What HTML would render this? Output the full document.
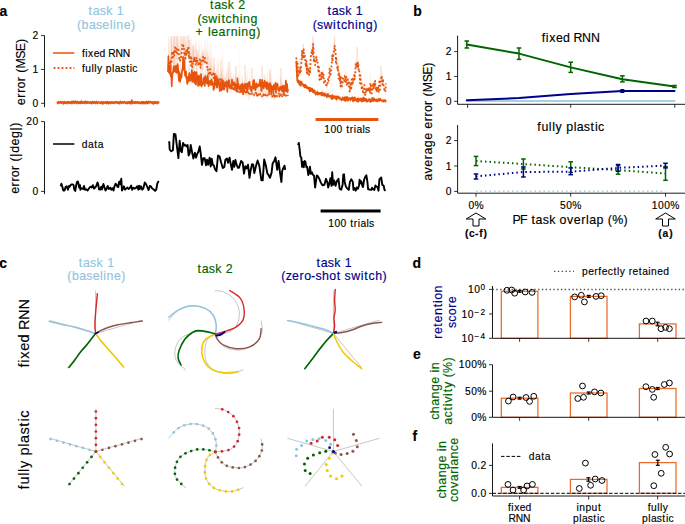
<!DOCTYPE html>
<html><head><meta charset="utf-8"><style>
html,body{margin:0;padding:0;background:#fff;}
svg{display:block;}
text{font-family:"Liberation Sans",sans-serif;}
</style></head><body>
<svg width="685" height="524" viewBox="0 0 685 524" style="white-space:pre">
<rect width="685" height="524" fill="#fff"/>
<text transform="translate(-1.20 15.80)" x="0.60" y="0" font-size="13.97" stroke="#000" stroke-width="0.15" font-weight="bold">a</text>
<text transform="translate(106.00 14.90)" x="-17.46 -13.25 -6.21 0.28 6.94 10.85" y="0" font-size="12.39" fill="#92c5de" stroke="#92c5de" stroke-width="0.15">task 1</text>
<text transform="translate(106.00 28.60)" x="-29.08 -24.41 -17.05 -10.01 -3.66 3.68 6.96 10.27 17.64 24.95" y="0" font-size="12.39" fill="#92c5de" stroke="#92c5de" stroke-width="0.15">(baseline)</text>
<text transform="translate(227.40 9.20)" x="-17.46 -13.25 -6.21 0.28 6.94 10.85" y="0" font-size="12.39" fill="#006400" stroke="#006400" stroke-width="0.15">task 2</text>
<text transform="translate(227.40 22.60)" x="-30.02 -25.68 -19.16 -9.60 -5.99 -1.81 4.83 12.28 15.59 23.07" y="0" font-size="12.39" fill="#006400" stroke="#006400" stroke-width="0.15">(switching</text>
<text transform="translate(227.40 35.90)" x="-31.86 -23.15 -19.29 -16.09 -8.84 -1.42 3.36 10.60 13.91 21.40 28.83" y="0" font-size="12.39" fill="#006400" stroke="#006400" stroke-width="0.15">+ learning)</text>
<text transform="translate(345.00 14.90)" x="-17.46 -13.25 -6.21 0.28 6.94 10.85" y="0" font-size="12.39" fill="#00008b" stroke="#00008b" stroke-width="0.15">task 1</text>
<text transform="translate(345.00 28.60)" x="-32.32 -27.98 -21.46 -11.90 -8.29 -4.11 2.53 9.97 13.28 20.77 28.20" y="0" font-size="12.39" fill="#00008b" stroke="#00008b" stroke-width="0.15">(switching)</text>
<line x1="44.50" y1="35.60" x2="44.50" y2="107.20" stroke="#000" stroke-width="0.9" />
<line x1="41.00" y1="35.60" x2="44.50" y2="35.60" stroke="#000" stroke-width="0.8" />
<text transform="translate(38.50 39.17)" x="-5.98" y="0" font-size="10.29" stroke="#000" stroke-width="0.15">2</text>
<line x1="41.00" y1="69.45" x2="44.50" y2="69.45" stroke="#000" stroke-width="0.8" />
<text transform="translate(38.50 73.02)" x="-5.98" y="0" font-size="10.29" stroke="#000" stroke-width="0.15">1</text>
<line x1="41.00" y1="103.30" x2="44.50" y2="103.30" stroke="#000" stroke-width="0.8" />
<text transform="translate(38.50 106.87)" x="-5.98" y="0" font-size="10.29" stroke="#000" stroke-width="0.15">0</text>
<text transform="translate(25.00 72.00) rotate(-90)" x="-33.14 -25.70 -20.85 -16.41 -9.25 -4.60 -0.77 3.53 13.39 20.86 28.96" y="0" font-size="12.39" stroke="#000" stroke-width="0.15">error (MSE)</text>
<line x1="53.00" y1="53.00" x2="74.40" y2="53.00" stroke="#e6550d" stroke-width="1.5" />
<text transform="translate(81.60 56.90)" x="0.30 3.67 6.50 12.13 17.95 24.05 26.73 33.80 41.13" y="0" font-size="10.29" stroke="#000" stroke-width="0.15">fixed RNN</text>
<line x1="53.60" y1="68.00" x2="74.40" y2="68.00" stroke="#e6550d" stroke-width="1.8" stroke-dasharray="1.8 2.2"/>
<text transform="translate(81.60 71.60)" x="0.30 3.69 9.88 12.60 15.43 21.03 24.27 30.46 33.11 38.95 44.57 48.14 50.76" y="0" font-size="10.29" stroke="#000" stroke-width="0.15">fully plastic</text>
<line x1="44.50" y1="121.60" x2="44.50" y2="194.20" stroke="#000" stroke-width="0.9" />
<line x1="41.00" y1="121.60" x2="44.50" y2="121.60" stroke="#000" stroke-width="0.8" />
<text transform="translate(38.50 125.17)" x="-12.21 -5.98" y="0" font-size="10.29" stroke="#000" stroke-width="0.15">20</text>
<line x1="41.00" y1="191.40" x2="44.50" y2="191.40" stroke="#000" stroke-width="0.8" />
<text transform="translate(38.50 194.97)" x="-5.98" y="0" font-size="10.29" stroke="#000" stroke-width="0.15">0</text>
<text transform="translate(19.20 158.20) rotate(-90)" x="-35.67 -28.24 -23.38 -18.94 -11.78 -7.14 -3.30 1.44 5.34 12.71 20.09 27.66 31.49" y="0" font-size="12.39" stroke="#000" stroke-width="0.15">error (|deg|)</text>
<line x1="53.00" y1="144.00" x2="74.40" y2="144.00" stroke="#000" stroke-width="1.5" />
<text transform="translate(81.60 147.80)" x="0.25 6.36 12.72 16.21" y="0" font-size="10.29" stroke="#000" stroke-width="0.15">data</text>
<line x1="315.60" y1="119.50" x2="378.40" y2="119.50" stroke="#e6550d" stroke-width="3" />
<text transform="translate(347.00 132.90)" x="-22.87 -16.63 -10.40 -4.29 -0.81 2.84 6.79 9.43 15.51 18.00" y="0" font-size="10.29" stroke="#000" stroke-width="0.15">100 trials</text>
<line x1="320.60" y1="211.00" x2="380.60" y2="211.00" stroke="#000" stroke-width="3" />
<text transform="translate(351.00 226.70)" x="-22.87 -16.63 -10.40 -4.29 -0.81 2.84 6.79 9.43 15.51 18.00" y="0" font-size="10.29" stroke="#000" stroke-width="0.15">100 trials</text>
<polyline points="57.00,101.80 57.94,103.49 58.87,101.72 59.81,103.13 60.74,101.66 61.68,103.10 62.61,101.82 63.55,103.80 64.49,101.65 65.42,103.21 66.36,101.95 67.29,103.51 68.23,101.83 69.17,103.12 70.10,101.79 71.04,103.61 71.97,101.40 72.91,103.26 73.84,101.23 74.78,103.01 75.72,101.25 76.65,103.33 77.59,101.42 78.52,103.48 79.46,101.85 80.39,103.34 81.33,101.04 82.27,103.24 83.20,101.79 84.14,103.43 85.07,101.34 86.01,103.26 86.94,101.51 87.88,103.16 88.82,102.12 89.75,103.16 90.69,101.79 91.62,103.67 92.56,101.62 93.50,103.37 94.43,101.83 95.37,103.42 96.30,101.43 97.24,103.42 98.17,102.21 99.11,102.94 100.05,102.06 100.98,103.44 101.92,101.61 102.85,104.00 103.79,102.03 104.72,103.04 105.66,101.82 106.60,103.57 107.53,101.74 108.47,103.60 109.40,101.78 110.34,103.60 111.28,102.23 112.21,103.20 113.15,101.86 114.08,103.26 115.02,101.84 115.95,103.04 116.89,101.63 117.83,103.34 118.76,102.07 119.70,103.74 120.63,101.40 121.57,103.16 122.50,101.99 123.44,102.80 124.38,101.66 125.31,103.37 126.25,102.18 127.18,103.61 128.12,101.70 129.06,103.29 129.99,101.72 130.93,103.86 131.86,100.17 132.80,103.31 133.73,101.91 134.67,103.36 135.61,101.74 136.54,103.07 137.48,101.80 138.41,103.27 139.35,102.15 140.28,103.60 141.22,101.79 142.16,103.60 143.09,101.70 144.03,103.72 144.96,101.80 145.90,103.58 146.83,101.41 147.77,103.50 148.71,101.29 149.64,102.79 150.58,101.71 151.51,103.13 152.45,101.85 153.39,104.07 154.32,101.55 155.26,103.21 156.19,101.86 157.13,103.55 158.06,101.75 159.00,103.34" fill="none" stroke="#e6550d" stroke-width="1.7" stroke-linejoin="round" />
<polyline points="57.50,101.70 58.78,103.10 60.07,101.70 61.35,103.10 62.64,101.70 63.92,103.10 65.21,101.70 66.49,103.10 67.78,101.70 69.06,103.10 70.35,101.70 71.63,103.10 72.92,101.70 74.20,103.10 75.49,101.70 76.77,103.10 78.06,101.70 79.34,103.10 80.63,101.70 81.91,103.10 83.20,101.70 84.48,103.10 85.77,101.70 87.05,103.10 88.34,101.70 89.62,103.10 90.91,101.70 92.19,103.10 93.47,101.70 94.76,103.10 96.04,101.70 97.33,103.10 98.61,101.70 99.90,103.10 101.18,101.70 102.47,103.10 103.75,101.70 105.04,103.10 106.32,101.70 107.61,103.10 108.89,101.70 110.18,103.10 111.46,101.70 112.75,103.10 114.03,101.70 115.32,103.10 116.60,101.70 117.89,103.10 119.17,101.70 120.46,103.10 121.74,101.70 123.03,103.10 124.31,101.70 125.59,103.10 126.88,101.70 128.16,103.10 129.45,101.70 130.73,103.10 132.02,101.70 133.30,103.10 134.59,101.70 135.87,103.10 137.16,101.70 138.44,103.10 139.73,101.70 141.01,103.10 142.30,101.70 143.58,103.10 144.87,101.70 146.15,103.10 147.44,101.70 148.72,103.10 150.01,101.70 151.29,103.10 152.58,101.70 153.86,103.10 155.15,101.70 156.43,103.10 157.72,101.70 159.00,103.10" fill="none" stroke="#e6550d" stroke-width="1.4" stroke-linejoin="round" stroke-dasharray="1.2 1.2"/>
<rect x="170.30" y="36.00" width="1.4" height="34.00" fill="#e6550d" fill-opacity="0.18"/>
<rect x="173.30" y="36.00" width="1.4" height="34.00" fill="#e6550d" fill-opacity="0.18"/>
<rect x="176.30" y="36.00" width="1.4" height="24.00" fill="#e6550d" fill-opacity="0.18"/>
<rect x="180.30" y="36.00" width="1.4" height="24.00" fill="#e6550d" fill-opacity="0.18"/>
<rect x="184.30" y="36.00" width="1.4" height="24.00" fill="#e6550d" fill-opacity="0.18"/>
<rect x="188.30" y="40.00" width="1.4" height="20.00" fill="#e6550d" fill-opacity="0.18"/>
<rect x="192.30" y="45.00" width="1.4" height="25.00" fill="#e6550d" fill-opacity="0.18"/>
<rect x="196.30" y="50.00" width="1.4" height="20.00" fill="#e6550d" fill-opacity="0.18"/>
<rect x="202.30" y="52.00" width="1.4" height="18.00" fill="#e6550d" fill-opacity="0.18"/>
<rect x="207.30" y="55.00" width="1.4" height="20.00" fill="#e6550d" fill-opacity="0.18"/>
<rect x="213.30" y="58.00" width="1.4" height="20.00" fill="#e6550d" fill-opacity="0.18"/>
<rect x="220.30" y="60.00" width="1.4" height="20.00" fill="#e6550d" fill-opacity="0.18"/>
<rect x="228.30" y="62.00" width="1.4" height="20.00" fill="#e6550d" fill-opacity="0.18"/>
<rect x="235.30" y="66.00" width="1.4" height="16.00" fill="#e6550d" fill-opacity="0.18"/>
<rect x="244.30" y="65.00" width="1.4" height="20.00" fill="#e6550d" fill-opacity="0.18"/>
<rect x="251.30" y="68.00" width="1.4" height="17.00" fill="#e6550d" fill-opacity="0.18"/>
<rect x="261.30" y="66.00" width="1.4" height="19.00" fill="#e6550d" fill-opacity="0.18"/>
<rect x="269.30" y="70.00" width="1.4" height="18.00" fill="#e6550d" fill-opacity="0.18"/>
<rect x="280.30" y="68.00" width="1.4" height="20.00" fill="#e6550d" fill-opacity="0.18"/>
<polygon points="168.00,64.90 168.42,35.60 168.84,35.60 169.25,64.43 169.67,70.02 170.09,67.14 170.51,53.23 170.93,53.68 171.34,49.59 171.76,81.02 172.18,71.51 172.60,45.91 173.02,68.47 173.44,45.92 173.85,58.12 174.27,50.19 174.69,54.04 175.11,48.50 175.53,53.08 175.94,61.33 176.36,53.90 176.78,63.16 177.20,55.18 177.62,38.19 178.03,59.58 178.45,66.97 178.87,75.30 179.29,64.55 179.71,56.56 180.13,76.97 180.54,50.27 180.96,62.75 181.38,69.87 181.80,70.63 182.22,57.99 182.63,54.16 183.05,54.42 183.47,44.54 183.89,35.60 184.31,47.87 184.72,57.66 185.14,35.60 185.56,47.25 185.98,67.02 186.40,69.34 186.82,69.83 187.23,75.62 187.65,78.68 188.07,59.78 188.49,75.90 188.91,65.32 189.32,64.77 189.74,61.66 190.16,73.33 190.58,72.36 191.00,60.74 191.41,51.05 191.83,62.90 192.25,54.21 192.67,69.78 193.09,66.30 193.51,48.48 193.92,70.80 194.34,62.19 194.76,65.61 195.18,63.19 195.60,79.43 196.01,79.91 196.43,50.80 196.85,67.49 197.27,71.89 197.69,71.30 198.10,73.05 198.52,72.60 198.94,77.62 199.36,68.21 199.78,80.47 200.20,74.84 200.61,70.40 201.03,66.15 201.45,79.05 201.87,50.39 202.29,63.98 202.70,62.01 203.12,73.69 203.54,72.87 203.96,75.35 204.38,71.85 204.79,84.36 205.21,70.81 205.63,64.48 206.05,51.55 206.47,65.41 206.89,79.61 207.30,65.80 207.72,71.38 208.14,67.37 208.56,79.39 208.98,70.19 209.39,35.60 209.81,66.11 210.23,38.16 210.65,73.34 211.07,79.92 211.48,59.97 211.90,56.56 212.32,77.88 212.74,77.63 213.16,81.41 213.57,84.50 213.99,75.52 214.41,82.51 214.83,72.01 215.25,79.89 215.67,72.94 216.08,73.84 216.50,66.60 216.92,80.30 217.34,85.14 217.76,54.81 218.17,74.54 218.59,75.65 219.01,73.46 219.43,85.13 219.85,85.56 220.26,78.14 220.68,79.02 221.10,67.75 221.52,82.03 221.94,85.51 222.36,84.74 222.77,73.75 223.19,77.26 223.61,79.45 224.03,88.25 224.45,78.05 224.86,76.03 225.28,77.43 225.70,84.89 226.12,59.16 226.54,80.82 226.95,82.27 227.37,62.48 227.79,79.07 228.21,76.27 228.63,78.60 229.05,64.06 229.46,84.87 229.88,81.37 230.30,79.05 230.72,83.89 231.14,74.58 231.55,83.85 231.97,76.64 232.39,78.32 232.81,81.73 233.23,74.74 233.64,72.50 234.06,78.18 234.48,80.66 234.90,84.81 235.32,79.96 235.74,74.86 236.15,83.84 236.57,80.48 236.99,86.55 237.41,75.74 237.83,78.25 238.24,81.51 238.66,80.83 239.08,71.85 239.50,87.18 239.92,84.36 240.33,84.66 240.75,87.87 241.17,83.06 241.59,81.37 242.01,85.18 242.43,78.19 242.84,75.10 243.26,83.05 243.68,84.35 244.10,80.89 244.52,80.35 244.93,83.82 245.35,87.18 245.77,78.58 246.19,69.20 246.61,78.65 247.02,88.33 247.44,65.43 247.86,86.12 248.28,80.72 248.70,80.76 249.11,81.25 249.53,77.88 249.95,62.79 250.37,85.56 250.79,84.52 251.21,85.30 251.62,87.78 252.04,85.83 252.46,81.56 252.88,76.90 253.30,74.47 253.71,81.20 254.13,78.42 254.55,87.29 254.97,73.09 255.39,78.95 255.80,84.69 256.22,77.95 256.64,82.83 257.06,77.23 257.48,80.27 257.90,83.44 258.31,80.55 258.73,80.56 259.15,79.15 259.57,84.78 259.99,79.15 260.40,83.53 260.82,81.13 261.24,84.82 261.66,82.86 262.08,74.18 262.49,83.67 262.91,81.33 263.33,71.46 263.75,85.89 264.17,75.58 264.59,72.57 265.00,80.15 265.42,71.80 265.84,84.46 266.26,72.90 266.68,86.63 267.09,86.76 267.51,80.79 267.93,78.06 268.35,84.29 268.77,80.12 269.18,90.90 269.60,77.10 270.02,64.20 270.44,78.74 270.86,70.27 271.28,86.77 271.69,61.48 272.11,82.46 272.53,87.26 272.95,72.38 273.37,89.71 273.78,83.05 274.20,86.77 274.62,86.15 275.04,85.16 275.46,80.93 275.87,78.90 276.29,79.15 276.71,85.79 277.13,82.34 277.55,81.64 277.97,87.85 278.38,86.36 278.80,85.36 279.22,88.72 279.64,86.60 280.06,80.75 280.47,76.76 280.89,75.18 281.31,82.28 281.73,81.18 282.15,89.00 282.56,81.98 282.98,83.79 283.40,82.03 283.82,91.89 284.24,84.33 284.66,82.58 285.07,80.14 285.49,89.84 285.91,78.08 286.33,83.72 286.75,86.20 287.16,82.16 287.58,87.72 288.00,85.59 288.00,89.97 287.58,94.25 287.16,85.38 286.75,91.79 286.33,89.98 285.91,82.98 285.49,93.07 285.07,90.37 284.66,90.45 284.24,89.13 283.82,93.85 283.40,90.22 282.98,89.47 282.56,89.51 282.15,93.31 281.73,90.88 281.31,87.43 280.89,90.73 280.47,90.42 280.06,88.19 279.64,89.97 279.22,92.76 278.80,91.70 278.38,92.12 277.97,89.58 277.55,85.63 277.13,86.54 276.71,89.95 276.29,89.94 275.87,95.93 275.46,85.46 275.04,89.91 274.62,88.17 274.20,90.97 273.78,87.47 273.37,96.72 272.95,90.41 272.53,89.57 272.11,92.79 271.69,88.62 271.28,94.44 270.86,88.84 270.44,85.81 270.02,85.52 269.60,88.36 269.18,94.45 268.77,85.49 268.35,86.88 267.93,86.60 267.51,86.62 267.09,89.97 266.68,89.45 266.26,85.16 265.84,90.06 265.42,87.98 265.00,87.54 264.59,83.85 264.17,87.29 263.75,89.56 263.33,85.69 262.91,87.30 262.49,88.41 262.08,83.59 261.66,92.37 261.24,92.68 260.82,84.69 260.40,89.31 259.99,83.01 259.57,87.70 259.15,87.31 258.73,87.75 258.31,86.99 257.90,88.71 257.48,87.58 257.06,84.92 256.64,89.40 256.22,84.79 255.80,87.28 255.39,90.94 254.97,89.79 254.55,92.94 254.13,83.82 253.71,91.65 253.30,81.32 252.88,86.22 252.46,89.90 252.04,88.30 251.62,93.41 251.21,89.30 250.79,88.91 250.37,92.85 249.95,88.84 249.53,86.04 249.11,85.60 248.70,86.19 248.28,84.51 247.86,92.08 247.44,86.65 247.02,92.25 246.61,86.83 246.19,91.07 245.77,88.03 245.35,89.83 244.93,87.03 244.52,85.10 244.10,86.61 243.68,95.02 243.26,91.05 242.84,95.44 242.43,85.50 242.01,90.07 241.59,87.63 241.17,87.03 240.75,95.09 240.33,90.52 239.92,91.18 239.50,90.72 239.08,90.73 238.66,89.26 238.24,84.87 237.83,90.09 237.41,78.87 236.99,92.58 236.57,90.14 236.15,90.07 235.74,87.39 235.32,86.80 234.90,89.29 234.48,87.04 234.06,84.50 233.64,85.12 233.23,86.45 232.81,86.50 232.39,84.91 231.97,82.33 231.55,87.12 231.14,87.56 230.72,90.63 230.30,87.93 229.88,90.41 229.46,88.57 229.05,81.26 228.63,82.69 228.21,84.80 227.79,85.14 227.37,94.68 226.95,90.80 226.54,81.88 226.12,83.26 225.70,87.52 225.28,86.30 224.86,84.52 224.45,87.15 224.03,92.23 223.61,85.08 223.19,87.20 222.77,83.12 222.36,90.39 221.94,101.05 221.52,91.04 221.10,87.59 220.68,88.99 220.26,84.98 219.85,92.84 219.43,87.06 219.01,87.67 218.59,83.43 218.17,84.13 217.76,82.27 217.34,88.73 216.92,89.16 216.50,78.14 216.08,92.67 215.67,82.23 215.25,84.01 214.83,79.10 214.41,89.85 213.99,89.65 213.57,92.65 213.16,86.33 212.74,87.30 212.32,86.86 211.90,84.23 211.48,83.42 211.07,91.70 210.65,82.71 210.23,86.20 209.81,82.83 209.39,89.21 208.98,89.50 208.56,87.52 208.14,84.05 207.72,77.16 207.30,82.90 206.89,84.51 206.47,83.29 206.05,82.17 205.63,80.95 205.21,77.70 204.79,89.39 204.38,81.61 203.96,80.09 203.54,79.69 203.12,85.29 202.70,88.53 202.29,85.67 201.87,85.75 201.45,89.19 201.03,75.53 200.61,83.75 200.20,82.51 199.78,96.16 199.36,77.04 198.94,87.86 198.52,80.71 198.10,88.53 197.69,80.19 197.27,83.76 196.85,80.31 196.43,73.83 196.01,86.02 195.60,86.04 195.18,77.49 194.76,73.08 194.34,85.44 193.92,82.36 193.51,80.90 193.09,73.92 192.67,81.55 192.25,82.83 191.83,73.45 191.41,81.27 191.00,77.33 190.58,81.31 190.16,88.87 189.74,83.65 189.32,74.66 188.91,80.06 188.49,84.20 188.07,78.17 187.65,82.52 187.23,90.25 186.82,79.39 186.40,81.78 185.98,73.09 185.56,75.82 185.14,76.87 184.72,72.84 184.31,64.54 183.89,62.44 183.47,75.27 183.05,59.46 182.63,77.20 182.22,72.08 181.80,78.26 181.38,81.65 180.96,78.71 180.54,76.76 180.13,86.87 179.71,77.68 179.29,73.52 178.87,81.51 178.45,78.27 178.03,68.67 177.62,65.52 177.20,69.15 176.78,75.47 176.36,71.46 175.94,67.47 175.53,73.60 175.11,68.43 174.69,75.24 174.27,69.97 173.85,69.04 173.44,70.51 173.02,76.28 172.60,75.69 172.18,80.61 171.76,87.39 171.34,74.90 170.93,80.84 170.51,69.39 170.09,79.25 169.67,74.41 169.25,70.61 168.84,73.57 168.42,59.69 168.00,77.80" fill="#e6550d" fill-opacity="0.16"/>
<polygon points="168.00,35.60 168.42,65.52 168.84,53.19 169.25,35.60 169.67,62.68 170.09,55.52 170.51,63.92 170.93,53.58 171.34,35.60 171.76,40.58 172.18,35.60 172.60,46.54 173.02,35.60 173.44,37.74 173.85,44.45 174.27,46.43 174.69,36.17 175.11,35.60 175.53,37.28 175.94,35.60 176.36,35.60 176.78,45.49 177.20,48.58 177.62,35.60 178.03,35.60 178.45,36.91 178.87,38.51 179.29,48.88 179.71,38.77 180.13,50.67 180.54,35.60 180.96,53.53 181.38,47.24 181.80,38.16 182.22,38.15 182.63,35.60 183.05,35.60 183.47,37.47 183.89,35.60 184.31,45.67 184.72,49.16 185.14,55.12 185.56,49.62 185.98,42.11 186.40,41.14 186.82,35.60 187.23,35.60 187.65,35.60 188.07,35.60 188.49,35.60 188.91,35.60 189.32,35.60 189.74,53.10 190.16,40.24 190.58,35.60 191.00,50.27 191.41,35.60 191.83,46.11 192.25,45.31 192.67,52.60 193.09,44.10 193.51,51.53 193.92,41.06 194.34,53.45 194.76,44.06 195.18,35.60 195.60,45.03 196.01,46.31 196.43,38.35 196.85,56.31 197.27,53.60 197.69,53.19 198.10,51.65 198.52,39.50 198.94,55.69 199.36,36.68 199.78,55.98 200.20,55.93 200.61,56.29 201.03,35.60 201.45,53.62 201.87,56.75 202.29,46.50 202.70,49.78 203.12,52.20 203.54,56.08 203.96,53.08 204.38,48.21 204.79,37.81 205.21,59.04 205.63,35.60 206.05,50.97 206.47,54.12 206.89,46.41 207.30,57.22 207.72,35.60 208.14,48.77 208.56,65.96 208.98,68.02 209.39,67.78 209.81,65.40 210.23,53.02 210.65,68.31 211.07,41.83 211.48,65.57 211.90,67.10 212.32,54.55 212.74,72.10 213.16,69.12 213.57,64.21 213.99,67.53 214.41,66.96 214.83,62.80 215.25,71.45 215.67,72.61 216.08,75.52 216.50,74.70 216.92,58.68 217.34,77.15 217.76,76.01 218.17,56.35 218.59,63.01 219.01,75.48 219.43,76.19 219.85,71.74 220.26,79.44 220.68,69.28 221.10,75.75 221.52,69.79 221.94,68.90 222.36,70.05 222.77,48.57 223.19,57.81 223.61,82.22 224.03,68.67 224.45,79.72 224.86,81.29 225.28,72.43 225.70,82.02 226.12,79.03 226.54,67.56 226.95,81.10 227.37,83.27 227.79,74.65 228.21,64.58 228.63,75.18 229.05,82.83 229.46,81.58 229.88,80.63 230.30,53.93 230.72,71.22 231.14,74.35 231.55,66.71 231.97,83.00 232.39,75.68 232.81,76.20 233.23,86.00 233.64,81.20 234.06,76.85 234.48,85.54 234.90,76.43 235.32,76.57 235.74,73.70 236.15,87.24 236.57,81.66 236.99,67.67 237.41,76.87 237.83,88.14 238.24,83.62 238.66,71.14 239.08,84.70 239.50,81.99 239.92,40.00 240.33,84.68 240.75,86.36 241.17,89.48 241.59,87.20 242.01,70.05 242.43,85.95 242.84,91.25 243.26,91.03 243.68,85.53 244.10,80.24 244.52,86.80 244.93,81.15 245.35,88.16 245.77,82.95 246.19,83.71 246.61,80.76 247.02,88.13 247.44,87.52 247.86,82.23 248.28,91.75 248.70,87.00 249.11,82.38 249.53,77.43 249.95,87.98 250.37,88.08 250.79,85.33 251.21,89.82 251.62,88.25 252.04,84.90 252.46,86.76 252.88,91.42 253.30,90.77 253.71,94.02 254.13,82.87 254.55,90.93 254.97,87.83 255.39,92.09 255.80,87.06 256.22,86.21 256.64,80.89 257.06,93.63 257.48,82.42 257.90,89.39 258.31,91.26 258.73,87.15 259.15,89.69 259.57,89.29 259.99,91.21 260.40,86.82 260.82,88.44 261.24,89.25 261.66,91.93 262.08,92.47 262.49,86.03 262.91,78.40 263.33,88.64 263.75,77.34 264.17,87.68 264.59,91.50 265.00,85.09 265.42,92.56 265.84,86.77 266.26,80.81 266.68,89.44 267.09,90.00 267.51,55.52 267.93,88.32 268.35,88.09 268.77,84.83 269.18,88.80 269.60,89.43 270.02,87.14 270.44,94.48 270.86,77.69 271.28,91.45 271.69,93.82 272.11,88.21 272.53,89.15 272.95,93.44 273.37,88.83 273.78,93.68 274.20,90.49 274.62,95.09 275.04,91.85 275.46,88.91 275.87,89.23 276.29,87.82 276.71,83.71 277.13,90.86 277.55,91.16 277.97,90.53 278.38,74.68 278.80,88.01 279.22,89.64 279.64,90.89 280.06,88.77 280.47,88.94 280.89,89.07 281.31,90.55 281.73,94.22 282.15,93.63 282.56,86.06 282.98,83.80 283.40,83.37 283.82,90.98 284.24,92.22 284.66,86.57 285.07,87.52 285.49,92.98 285.91,85.82 286.33,88.02 286.75,76.42 287.16,93.78 287.58,93.04 288.00,86.41 288.00,97.04 287.58,97.10 287.16,97.08 286.75,97.19 286.33,97.13 285.91,97.60 285.49,95.66 285.07,96.87 284.66,96.57 284.24,99.16 283.82,96.83 283.40,95.79 282.98,94.75 282.56,94.58 282.15,97.28 281.73,97.76 281.31,96.39 280.89,94.95 280.47,97.99 280.06,95.99 279.64,98.61 279.22,98.32 278.80,94.45 278.38,99.16 277.97,96.80 277.55,95.33 277.13,98.36 276.71,97.44 276.29,97.16 275.87,99.06 275.46,99.34 275.04,96.02 274.62,100.66 274.20,100.33 273.78,101.87 273.37,97.30 272.95,97.29 272.53,96.93 272.11,97.70 271.69,100.78 271.28,95.62 270.86,99.33 270.44,95.64 270.02,95.87 269.60,95.60 269.18,99.09 268.77,96.32 268.35,97.62 267.93,96.91 267.51,97.62 267.09,99.65 266.68,98.40 266.26,94.78 265.84,95.06 265.42,96.66 265.00,96.16 264.59,96.71 264.17,95.11 263.75,102.34 263.33,96.34 262.91,97.18 262.49,96.89 262.08,99.51 261.66,97.52 261.24,100.29 260.82,95.80 260.40,94.82 259.99,96.88 259.57,95.13 259.15,96.16 258.73,98.43 258.31,94.92 257.90,96.26 257.48,95.82 257.06,100.04 256.64,96.38 256.22,96.87 255.80,95.09 255.39,95.26 254.97,96.51 254.55,97.26 254.13,97.42 253.71,98.43 253.30,97.76 252.88,95.29 252.46,95.73 252.04,94.48 251.62,96.43 251.21,95.06 250.79,94.87 250.37,95.96 249.95,99.89 249.53,93.15 249.11,99.90 248.70,101.11 248.28,96.94 247.86,96.30 247.44,95.85 247.02,97.60 246.61,93.29 246.19,95.46 245.77,96.11 245.35,95.55 244.93,100.06 244.52,93.73 244.10,94.85 243.68,93.45 243.26,97.31 242.84,95.69 242.43,94.97 242.01,93.54 241.59,91.86 241.17,95.81 240.75,93.63 240.33,92.27 239.92,93.08 239.50,93.05 239.08,92.50 238.66,94.27 238.24,93.97 237.83,92.84 237.41,91.38 236.99,90.89 236.57,89.60 236.15,96.35 235.74,94.22 235.32,91.33 234.90,90.42 234.48,89.83 234.06,90.14 233.64,91.94 233.23,93.50 232.81,89.45 232.39,88.44 231.97,89.56 231.55,87.80 231.14,89.97 230.72,87.82 230.30,88.91 229.88,88.55 229.46,87.51 229.05,87.10 228.63,88.48 228.21,84.88 227.79,85.35 227.37,88.59 226.95,86.44 226.54,88.42 226.12,86.24 225.70,91.31 225.28,89.47 224.86,85.00 224.45,84.02 224.03,85.50 223.61,85.64 223.19,85.01 222.77,86.53 222.36,89.17 221.94,88.15 221.52,82.78 221.10,85.80 220.68,84.80 220.26,85.96 219.85,81.07 219.43,86.57 219.01,82.62 218.59,82.39 218.17,82.76 217.76,83.47 217.34,82.45 216.92,85.56 216.50,79.20 216.08,79.75 215.67,80.80 215.25,80.57 214.83,75.81 214.41,81.88 213.99,82.93 213.57,80.49 213.16,74.64 212.74,77.69 212.32,74.26 211.90,77.71 211.48,75.00 211.07,76.32 210.65,76.58 210.23,71.37 209.81,77.52 209.39,80.08 208.98,76.00 208.56,74.45 208.14,76.52 207.72,71.08 207.30,70.71 206.89,68.64 206.47,65.19 206.05,63.44 205.63,62.65 205.21,64.83 204.79,58.38 204.38,62.00 203.96,61.18 203.54,65.22 203.12,59.36 202.70,67.27 202.29,64.63 201.87,60.35 201.45,66.06 201.03,63.77 200.61,72.12 200.20,66.07 199.78,61.71 199.36,66.27 198.94,63.65 198.52,67.38 198.10,68.36 197.69,64.08 197.27,63.70 196.85,66.24 196.43,59.13 196.01,58.85 195.60,68.33 195.18,64.56 194.76,61.78 194.34,58.61 193.92,66.86 193.51,62.21 193.09,62.63 192.67,66.24 192.25,69.77 191.83,65.61 191.41,60.61 191.00,67.03 190.58,58.71 190.16,58.53 189.74,69.48 189.32,55.87 188.91,60.84 188.49,48.65 188.07,51.85 187.65,56.18 187.23,52.35 186.82,58.63 186.40,57.88 185.98,54.55 185.56,57.63 185.14,66.38 184.72,54.58 184.31,55.28 183.89,49.92 183.47,52.12 183.05,47.83 182.63,45.81 182.22,47.78 181.80,52.97 181.38,55.99 180.96,61.69 180.54,59.59 180.13,62.91 179.71,61.34 179.29,63.69 178.87,57.06 178.45,50.10 178.03,49.51 177.62,51.55 177.20,56.84 176.78,55.62 176.36,53.55 175.94,56.51 175.53,50.96 175.11,50.07 174.69,54.54 174.27,56.77 173.85,53.72 173.44,52.99 173.02,61.56 172.60,58.56 172.18,57.13 171.76,60.83 171.34,66.35 170.93,64.16 170.51,72.78 170.09,63.00 169.67,71.62 169.25,65.77 168.84,63.87 168.42,70.99 168.00,69.09" fill="#e6550d" fill-opacity="0.16"/>
<polyline points="168.00,72.00 168.42,56.20 168.84,72.44 169.25,69.94 169.67,71.77 170.09,74.20 170.51,66.64 170.93,76.64 171.34,73.05 171.76,86.30 172.18,76.75 172.60,73.08 173.02,72.57 173.44,69.44 173.85,66.30 174.27,68.29 174.69,71.27 175.11,66.70 175.53,71.91 175.94,65.75 176.36,66.26 176.78,72.99 177.20,67.61 177.62,64.20 178.03,67.37 178.45,72.45 178.87,80.70 179.29,72.07 179.71,74.15 180.13,81.99 180.54,74.56 180.96,74.86 181.38,77.87 181.80,73.93 182.22,69.62 182.63,70.75 183.05,56.74 183.47,69.23 183.89,61.20 184.31,60.31 184.72,71.70 185.14,75.90 185.56,72.57 185.98,71.63 186.40,78.64 186.82,78.13 187.23,83.95 187.65,80.10 188.07,76.95 188.49,81.53 188.91,75.98 189.32,73.14 189.74,80.37 190.16,80.68 190.58,77.28 191.00,74.95 191.41,79.57 191.83,70.06 192.25,81.87 192.67,81.16 193.09,72.32 193.51,79.66 193.92,75.57 194.34,82.85 194.76,71.76 195.18,76.31 195.60,82.84 196.01,84.58 196.43,72.16 196.85,78.07 197.27,81.26 197.69,77.68 198.10,86.00 198.52,75.55 198.94,81.31 199.36,76.17 199.78,85.09 200.20,79.96 200.61,78.78 201.03,74.02 201.45,86.34 201.87,83.08 202.29,83.17 202.70,84.63 203.12,81.88 203.54,78.41 203.96,77.92 204.38,78.00 204.79,85.88 205.21,75.80 205.63,78.99 206.05,80.06 206.47,82.10 206.89,83.44 207.30,76.98 207.72,75.35 208.14,81.61 208.56,86.06 208.98,84.51 209.39,82.65 209.81,80.83 210.23,83.09 210.65,81.26 211.07,85.13 211.48,79.46 211.90,82.86 212.32,82.07 212.74,84.49 213.16,83.43 213.57,89.85 213.99,88.15 214.41,88.22 214.83,75.83 215.25,81.84 215.67,80.96 216.08,85.12 216.50,76.18 216.92,87.57 217.34,87.27 217.76,78.92 218.17,80.15 218.59,80.87 219.01,83.96 219.43,86.16 219.85,91.08 220.26,83.32 220.68,86.80 221.10,84.66 221.52,90.40 221.94,86.83 222.36,89.09 222.77,80.45 223.19,83.64 223.61,81.48 224.03,89.74 224.45,86.78 224.86,83.41 225.28,82.93 225.70,86.29 226.12,82.13 226.54,81.36 226.95,86.40 227.37,91.81 227.79,83.91 228.21,82.86 228.63,80.72 229.05,80.19 229.46,86.80 229.88,87.99 230.30,85.05 230.72,86.21 231.14,85.47 231.55,85.57 231.97,79.72 232.39,83.50 232.81,85.53 233.23,82.40 233.64,83.50 234.06,82.32 234.48,84.05 234.90,88.25 235.32,83.83 235.74,84.75 236.15,88.17 236.57,87.60 236.99,91.31 237.41,78.34 237.83,88.40 238.24,83.72 238.66,85.91 239.08,88.40 239.50,89.28 239.92,89.14 240.33,86.06 240.75,91.18 241.17,84.57 241.59,85.09 242.01,88.40 242.43,83.69 242.84,92.65 243.26,89.23 243.68,92.69 244.10,85.61 244.52,84.39 244.93,86.33 245.35,88.34 245.77,83.73 246.19,87.14 246.61,85.77 247.02,91.50 247.44,83.56 247.86,89.55 248.28,83.67 248.70,82.58 249.11,83.48 249.53,81.83 249.95,86.51 250.37,89.61 250.79,86.61 251.21,88.24 251.62,91.77 252.04,87.04 252.46,86.80 252.88,85.19 253.30,80.57 253.71,88.83 254.13,80.10 254.55,88.50 254.97,86.20 255.39,90.18 255.80,86.05 256.22,83.45 256.64,87.57 257.06,84.41 257.48,85.75 257.90,86.54 258.31,85.95 258.73,85.78 259.15,83.57 259.57,85.82 259.99,79.57 260.40,85.96 260.82,82.37 261.24,90.40 261.66,90.92 262.08,79.79 262.49,87.05 262.91,86.12 263.33,82.94 263.75,88.40 264.17,84.98 264.59,80.48 265.00,85.67 265.42,86.09 265.84,86.97 266.26,82.36 266.68,88.74 267.09,89.16 267.51,82.68 267.93,84.37 268.35,86.37 268.77,84.71 269.18,92.67 269.60,87.39 270.02,83.20 270.44,83.98 270.86,86.50 271.28,93.58 271.69,86.10 272.11,87.15 272.53,88.49 272.95,86.59 273.37,93.61 273.78,84.92 274.20,89.31 274.62,87.31 275.04,88.90 275.46,82.74 275.87,92.84 276.29,86.37 276.71,86.92 277.13,83.60 277.55,84.32 277.97,88.75 278.38,90.20 278.80,89.41 279.22,90.98 279.64,89.29 280.06,86.96 280.47,89.72 280.89,88.90 281.31,86.54 281.73,89.37 282.15,91.28 282.56,87.70 282.98,85.70 283.40,89.37 283.82,93.41 284.24,86.22 284.66,86.63 285.07,86.48 285.49,91.12 285.91,80.71 286.33,88.22 286.75,91.03 287.16,84.22 287.58,92.06 288.00,88.82" fill="none" stroke="#e6550d" stroke-width="1.7" stroke-linejoin="round" />
<polyline points="168.00,68.24 168.42,69.40 168.84,62.58 169.25,64.43 169.67,70.83 170.09,60.87 170.51,68.38 170.93,60.96 171.34,63.15 171.76,58.85 172.18,51.31 172.60,55.21 173.02,56.98 173.44,52.02 173.85,50.72 174.27,55.54 174.69,51.54 175.11,47.33 175.53,49.72 175.94,53.81 176.36,48.69 176.78,52.35 177.20,53.39 177.62,50.11 178.03,47.90 178.45,48.86 178.87,54.45 179.29,58.78 179.71,58.22 180.13,60.50 180.54,58.35 180.96,58.56 181.38,53.91 181.80,52.20 182.22,46.93 182.63,43.85 183.05,46.43 183.47,45.72 183.89,47.49 184.31,54.00 184.72,52.81 185.14,60.23 185.56,56.29 185.98,50.79 186.40,54.80 186.82,52.95 187.23,49.11 187.65,54.33 188.07,48.62 188.49,46.20 188.91,56.63 189.32,53.61 189.74,61.83 190.16,56.32 190.58,55.67 191.00,65.45 191.41,58.09 191.83,63.23 192.25,67.19 192.67,62.25 193.09,60.94 193.51,60.81 193.92,62.36 194.34,56.66 194.76,60.23 195.18,59.95 195.60,64.66 196.01,58.38 196.43,57.29 196.85,62.55 197.27,59.91 197.69,62.38 198.10,62.52 198.52,65.95 198.94,61.65 199.36,63.79 199.78,59.43 200.20,62.37 200.61,67.92 201.03,61.55 201.45,60.81 201.87,58.84 202.29,62.63 202.70,60.93 203.12,56.96 203.54,60.93 203.96,59.42 204.38,60.06 204.79,56.25 205.21,62.33 205.63,60.81 206.05,61.17 206.47,61.83 206.89,64.02 207.30,68.31 207.72,67.78 208.14,72.65 208.56,73.28 208.98,75.13 209.39,74.22 209.81,72.62 210.23,69.07 210.65,73.83 211.07,75.05 211.48,74.03 211.90,75.04 212.32,73.35 212.74,73.88 213.16,73.18 213.57,77.87 213.99,75.95 214.41,75.11 214.83,73.95 215.25,76.43 215.67,79.62 216.08,78.22 216.50,76.48 216.92,80.59 217.34,80.91 217.76,80.48 218.17,80.46 218.59,81.37 219.01,80.63 219.43,81.31 219.85,79.04 220.26,83.06 220.68,81.29 221.10,84.42 221.52,78.33 221.94,82.93 222.36,83.65 222.77,81.88 223.19,83.40 223.61,84.15 224.03,84.18 224.45,82.80 224.86,83.69 225.28,85.67 225.70,86.28 226.12,84.81 226.54,85.03 226.95,85.46 227.37,86.88 227.79,84.21 228.21,84.09 228.63,86.35 229.05,84.93 229.46,85.89 229.88,87.04 230.30,87.77 230.72,85.93 231.14,88.54 231.55,85.45 231.97,88.57 232.39,86.11 232.81,86.70 233.23,89.23 233.64,88.15 234.06,87.88 234.48,88.49 234.90,89.75 235.32,89.33 235.74,89.55 236.15,90.95 236.57,89.16 236.99,89.63 237.41,89.77 237.83,91.77 238.24,91.76 238.66,92.24 239.08,91.05 239.50,91.11 239.92,92.32 240.33,91.17 240.75,92.48 241.17,92.46 241.59,91.12 242.01,91.82 242.43,91.87 242.84,93.80 243.26,94.15 243.68,92.14 244.10,92.33 244.52,90.40 244.93,92.70 245.35,92.56 245.77,91.58 246.19,93.52 246.61,91.26 247.02,92.69 247.44,93.13 247.86,91.82 248.28,94.01 248.70,94.29 249.11,91.94 249.53,92.00 249.95,94.09 250.37,93.50 250.79,92.35 251.21,93.30 251.62,93.51 252.04,93.51 252.46,94.51 252.88,94.10 253.30,95.52 253.71,95.15 254.13,94.49 254.55,94.92 254.97,95.20 255.39,94.61 255.80,92.71 256.22,94.83 256.64,94.07 257.06,95.65 257.48,94.15 257.90,94.62 258.31,94.45 258.73,95.84 259.15,94.36 259.57,93.95 259.99,94.56 260.40,93.84 260.82,94.47 261.24,94.34 261.66,94.65 262.08,96.33 262.49,94.03 262.91,94.51 263.33,94.30 263.75,95.20 264.17,93.38 264.59,93.90 265.00,94.59 265.42,95.20 265.84,94.64 266.26,94.22 266.68,93.88 267.09,95.29 267.51,96.26 267.93,95.17 268.35,95.06 268.77,95.35 269.18,94.00 269.60,94.66 270.02,94.73 270.44,95.31 270.86,94.99 271.28,93.82 271.69,96.17 272.11,96.75 272.53,94.81 272.95,95.48 273.37,95.36 273.78,95.89 274.20,93.64 274.62,96.74 275.04,94.67 275.46,96.42 275.87,95.24 276.29,94.79 276.71,95.05 277.13,96.10 277.55,94.35 277.97,94.85 278.38,94.75 278.80,93.53 279.22,96.56 279.64,95.85 280.06,95.26 280.47,96.45 280.89,94.35 281.31,95.24 281.73,97.05 282.15,96.32 282.56,93.35 282.98,93.36 283.40,94.33 283.82,96.45 284.24,94.92 284.66,95.19 285.07,96.03 285.49,94.55 285.91,95.65 286.33,96.25 286.75,95.93 287.16,95.87 287.58,94.89 288.00,96.01" fill="none" stroke="#e6550d" stroke-width="1.8" stroke-linejoin="round" stroke-dasharray="1.8 2.2"/>
<rect x="302.60" y="44.00" width="1.4" height="16.00" fill="#e6550d" fill-opacity="0.18"/>
<rect x="312.30" y="36.40" width="1.4" height="18.60" fill="#e6550d" fill-opacity="0.18"/>
<rect x="333.80" y="36.40" width="1.4" height="15.60" fill="#e6550d" fill-opacity="0.18"/>
<rect x="356.50" y="47.00" width="1.4" height="18.00" fill="#e6550d" fill-opacity="0.18"/>
<rect x="380.30" y="65.80" width="1.4" height="16.20" fill="#e6550d" fill-opacity="0.18"/>
<rect x="299.30" y="58.00" width="1.4" height="12.00" fill="#e6550d" fill-opacity="0.18"/>
<polygon points="296.40,59.66 296.73,63.69 297.07,74.52 297.40,78.97 297.74,81.68 298.07,80.60 298.41,77.55 298.74,78.31 299.08,81.55 299.41,83.20 299.75,82.55 300.08,79.10 300.42,78.33 300.75,79.95 301.09,82.18 301.42,80.23 301.76,83.32 302.09,78.78 302.43,78.00 302.76,83.20 303.10,82.13 303.43,84.25 303.77,84.43 304.10,84.91 304.44,85.31 304.77,84.70 305.11,84.02 305.44,85.61 305.78,85.80 306.11,82.77 306.44,83.54 306.78,86.05 307.11,86.59 307.45,86.85 307.78,85.65 308.12,86.92 308.45,86.27 308.79,85.96 309.12,87.87 309.46,83.17 309.79,90.79 310.13,88.93 310.46,86.84 310.80,89.99 311.13,88.95 311.47,88.00 311.80,89.98 312.14,87.55 312.47,88.31 312.81,90.04 313.14,90.61 313.48,88.34 313.81,89.26 314.15,86.74 314.48,90.41 314.82,87.51 315.15,92.02 315.49,90.83 315.82,93.02 316.16,90.02 316.49,92.69 316.82,91.42 317.16,87.93 317.49,91.28 317.83,87.11 318.16,91.52 318.50,91.29 318.83,91.95 319.17,92.89 319.50,92.21 319.84,92.15 320.17,92.21 320.51,92.85 320.84,89.55 321.18,89.80 321.51,91.96 321.85,89.58 322.18,90.75 322.52,93.34 322.85,84.04 323.19,89.30 323.52,91.11 323.86,93.20 324.19,93.27 324.53,90.43 324.86,94.69 325.20,91.77 325.53,92.97 325.87,91.83 326.20,87.50 326.53,91.92 326.87,92.77 327.20,93.65 327.54,91.98 327.87,90.82 328.21,95.18 328.54,88.26 328.88,95.47 329.21,95.11 329.55,90.28 329.88,87.83 330.22,94.96 330.55,95.69 330.89,80.41 331.22,94.94 331.56,98.48 331.89,96.23 332.23,87.88 332.56,96.03 332.90,94.36 333.23,91.80 333.57,95.23 333.90,95.77 334.24,95.96 334.57,94.12 334.91,95.41 335.24,95.69 335.58,92.42 335.91,94.49 336.24,96.10 336.58,97.72 336.91,93.30 337.25,94.51 337.58,96.66 337.92,94.57 338.25,90.72 338.59,94.79 338.92,97.32 339.26,96.27 339.59,97.64 339.93,97.80 340.26,92.88 340.60,97.37 340.93,97.71 341.27,97.57 341.60,98.58 341.94,97.34 342.27,97.13 342.61,98.15 342.94,94.71 343.28,92.90 343.61,98.23 343.95,98.08 344.28,96.19 344.62,98.11 344.95,96.06 345.29,99.48 345.62,97.96 345.96,96.25 346.29,99.34 346.62,96.68 346.96,96.22 347.29,97.95 347.63,97.98 347.96,97.58 348.30,97.62 348.63,96.27 348.97,95.85 349.30,95.47 349.64,96.51 349.97,98.07 350.31,98.29 350.64,98.56 350.98,97.43 351.31,93.62 351.65,98.32 351.98,92.12 352.32,95.97 352.65,96.18 352.99,98.78 353.32,95.93 353.66,97.59 353.99,99.27 354.33,99.81 354.66,95.26 355.00,96.39 355.33,97.13 355.67,98.95 356.00,98.03 356.33,95.05 356.67,95.44 357.00,99.34 357.34,100.76 357.67,96.16 358.01,96.37 358.34,99.37 358.68,92.50 359.01,95.77 359.35,98.68 359.68,99.13 360.02,95.87 360.35,97.90 360.69,95.38 361.02,98.44 361.36,98.94 361.69,99.23 362.03,94.04 362.36,95.95 362.70,97.78 363.03,99.60 363.37,97.83 363.70,95.60 364.04,95.26 364.37,92.15 364.71,98.66 365.04,97.34 365.38,98.39 365.71,98.61 366.04,97.68 366.38,97.66 366.71,99.61 367.05,100.65 367.38,97.84 367.72,98.68 368.05,100.00 368.39,97.03 368.72,98.43 369.06,92.55 369.39,97.23 369.73,97.82 370.06,100.72 370.40,98.32 370.73,97.71 371.07,100.05 371.40,96.56 371.74,100.67 372.07,95.91 372.41,96.74 372.74,98.44 373.08,96.25 373.41,95.11 373.75,100.02 374.08,98.88 374.42,97.01 374.75,95.35 375.09,97.04 375.42,99.15 375.76,98.22 376.09,97.30 376.42,98.75 376.76,99.86 377.09,100.50 377.43,99.86 377.76,99.54 378.10,99.27 378.43,98.00 378.77,97.02 379.10,98.83 379.44,98.50 379.77,93.36 380.11,97.42 380.44,98.95 380.78,95.37 381.11,99.13 381.45,99.43 381.78,95.83 382.12,98.21 382.45,98.33 382.79,98.23 383.12,97.99 383.46,99.76 383.79,98.29 384.13,99.50 384.46,98.77 384.80,97.90 385.13,99.56 385.47,98.43 385.80,84.40 385.80,101.04 385.47,102.88 385.13,102.28 384.80,105.69 384.46,102.32 384.13,102.86 383.79,101.13 383.46,103.65 383.12,102.61 382.79,102.32 382.45,101.85 382.12,102.71 381.78,102.78 381.45,101.50 381.11,101.71 380.78,101.60 380.44,101.42 380.11,99.27 379.77,100.11 379.44,102.00 379.10,103.03 378.77,100.01 378.43,101.50 378.10,101.30 377.76,104.07 377.43,102.93 377.09,102.37 376.76,100.69 376.42,101.78 376.09,100.77 375.76,101.72 375.42,101.96 375.09,102.33 374.75,101.08 374.42,100.02 374.08,101.36 373.75,102.51 373.41,101.81 373.08,99.36 372.74,103.09 372.41,101.31 372.07,98.92 371.74,102.68 371.40,102.94 371.07,103.70 370.73,102.60 370.40,102.25 370.06,102.84 369.73,101.26 369.39,102.48 369.06,101.82 368.72,101.72 368.39,101.81 368.05,102.76 367.72,100.90 367.38,104.29 367.05,103.13 366.71,104.10 366.38,100.87 366.04,100.43 365.71,103.75 365.38,101.56 365.04,100.68 364.71,101.46 364.37,100.16 364.04,100.42 363.70,98.99 363.37,100.36 363.03,105.20 362.70,100.10 362.36,100.34 362.03,101.01 361.69,102.45 361.36,101.84 361.02,101.26 360.69,99.21 360.35,101.59 360.02,101.57 359.68,102.09 359.35,100.45 359.01,100.49 358.68,101.40 358.34,102.96 358.01,100.45 357.67,100.13 357.34,102.42 357.00,102.87 356.67,101.15 356.33,101.72 356.00,99.57 355.67,100.85 355.33,100.51 355.00,100.39 354.66,98.25 354.33,102.82 353.99,101.30 353.66,101.70 353.32,102.15 352.99,103.90 352.65,99.41 352.32,100.14 351.98,99.40 351.65,101.68 351.31,98.87 350.98,99.18 350.64,102.38 350.31,103.49 349.97,101.00 349.64,99.93 349.30,100.13 348.97,99.71 348.63,99.94 348.30,99.77 347.96,102.42 347.63,98.93 347.29,101.62 346.96,100.39 346.62,100.56 346.29,102.98 345.96,100.29 345.62,101.55 345.29,101.76 344.95,99.68 344.62,99.73 344.28,101.90 343.95,100.15 343.61,100.61 343.28,103.63 342.94,100.27 342.61,101.69 342.27,100.11 341.94,100.71 341.60,101.45 341.27,101.83 340.93,99.26 340.60,101.19 340.26,100.12 339.93,100.16 339.59,100.43 339.26,100.92 338.92,101.48 338.59,98.91 338.25,98.05 337.92,97.63 337.58,99.98 337.25,98.24 336.91,97.07 336.58,102.86 336.24,102.42 335.91,97.77 335.58,100.80 335.24,101.49 334.91,97.09 334.57,97.32 334.24,97.17 333.90,98.56 333.57,101.10 333.23,96.50 332.90,98.66 332.56,100.16 332.23,97.48 331.89,99.85 331.56,99.84 331.22,97.80 330.89,99.07 330.55,98.41 330.22,97.21 329.88,98.05 329.55,99.84 329.21,99.58 328.88,97.71 328.54,97.38 328.21,96.63 327.87,95.52 327.54,98.67 327.20,96.34 326.87,99.48 326.53,96.24 326.20,95.53 325.87,98.40 325.53,95.37 325.20,95.99 324.86,97.48 324.53,95.86 324.19,94.92 323.86,98.12 323.52,95.25 323.19,95.33 322.85,95.46 322.52,96.21 322.18,93.46 321.85,93.40 321.51,93.77 321.18,97.77 320.84,94.10 320.51,94.73 320.17,95.13 319.84,95.12 319.50,94.55 319.17,95.71 318.83,102.26 318.50,95.21 318.16,93.65 317.83,96.70 317.49,93.12 317.16,92.61 316.82,94.43 316.49,93.85 316.16,93.95 315.82,96.52 315.49,99.23 315.15,94.83 314.82,91.68 314.48,92.43 314.15,90.97 313.81,92.98 313.48,91.31 313.14,93.25 312.81,92.82 312.47,93.02 312.14,90.76 311.80,92.09 311.47,92.10 311.13,91.25 310.80,92.80 310.46,88.49 310.13,93.13 309.79,96.32 309.46,89.77 309.12,91.29 308.79,88.43 308.45,89.73 308.12,89.84 307.78,87.95 307.45,89.33 307.11,88.59 306.78,89.00 306.44,87.98 306.11,89.87 305.78,87.73 305.44,88.19 305.11,86.43 304.77,88.74 304.44,87.54 304.10,87.97 303.77,89.81 303.43,88.16 303.10,85.42 302.76,85.15 302.43,85.16 302.09,84.90 301.76,86.93 301.42,83.13 301.09,86.56 300.75,87.03 300.42,88.87 300.08,84.37 299.75,86.11 299.41,86.54 299.08,84.42 298.74,82.19 298.41,83.09 298.07,84.61 297.74,83.19 297.40,84.05 297.07,79.74 296.73,70.52 296.40,61.74" fill="#e6550d" fill-opacity="0.16"/>
<polygon points="296.40,54.12 296.73,53.99 297.07,64.98 297.40,69.41 297.74,60.91 298.07,72.40 298.41,72.34 298.74,65.54 299.08,65.39 299.41,70.54 299.75,70.21 300.08,70.39 300.42,63.46 300.75,71.43 301.09,57.75 301.42,53.28 301.76,58.28 302.09,47.14 302.43,57.69 302.76,50.81 303.10,47.15 303.43,48.25 303.77,46.13 304.10,53.13 304.44,50.89 304.77,52.75 305.11,47.59 305.44,62.05 305.78,65.54 306.11,61.30 306.44,59.25 306.78,71.43 307.11,63.19 307.45,73.43 307.78,67.64 308.12,63.70 308.45,65.77 308.79,70.32 309.12,73.26 309.46,67.08 309.79,68.57 310.13,67.48 310.46,58.45 310.80,50.15 311.13,49.17 311.47,45.84 311.80,52.32 312.14,45.11 312.47,43.34 312.81,41.59 313.14,39.46 313.48,44.01 313.81,59.30 314.15,55.94 314.48,57.42 314.82,56.67 315.15,62.32 315.49,54.99 315.82,57.93 316.16,52.01 316.49,49.72 316.82,57.15 317.16,55.59 317.49,60.59 317.83,64.15 318.16,63.04 318.50,67.30 318.83,63.19 319.17,69.36 319.50,71.05 319.84,70.22 320.17,73.74 320.51,73.71 320.84,75.66 321.18,76.68 321.51,68.94 321.85,75.63 322.18,73.47 322.52,70.89 322.85,74.94 323.19,64.52 323.52,69.78 323.86,79.38 324.19,81.04 324.53,75.41 324.86,71.41 325.20,80.62 325.53,79.50 325.87,82.06 326.20,82.67 326.53,80.93 326.87,84.73 327.20,83.45 327.54,83.28 327.87,71.88 328.21,72.74 328.54,78.62 328.88,74.52 329.21,74.44 329.55,65.61 329.88,64.45 330.22,72.28 330.55,69.94 330.89,73.24 331.22,68.23 331.56,63.71 331.89,59.27 332.23,52.95 332.56,50.56 332.90,51.55 333.23,53.86 333.57,48.95 333.90,45.07 334.24,40.60 334.57,39.25 334.91,45.79 335.24,45.65 335.58,46.13 335.91,58.51 336.24,51.69 336.58,61.98 336.91,56.66 337.25,59.45 337.58,63.57 337.92,62.38 338.25,71.62 338.59,77.50 338.92,68.28 339.26,71.35 339.59,75.06 339.93,78.58 340.26,69.65 340.60,80.53 340.93,77.40 341.27,70.99 341.60,84.91 341.94,82.78 342.27,76.73 342.61,76.01 342.94,76.70 343.28,77.05 343.61,80.11 343.95,80.22 344.28,73.54 344.62,67.38 344.95,72.32 345.29,70.36 345.62,79.19 345.96,79.18 346.29,71.05 346.62,73.68 346.96,81.75 347.29,83.09 347.63,84.01 347.96,76.95 348.30,81.18 348.63,80.54 348.97,84.67 349.30,78.07 349.64,88.50 349.97,84.61 350.31,85.67 350.64,80.49 350.98,83.41 351.31,84.29 351.65,76.60 351.98,83.50 352.32,83.60 352.65,75.28 352.99,78.36 353.32,70.50 353.66,79.13 353.99,70.00 354.33,72.61 354.66,76.69 355.00,71.45 355.33,68.98 355.67,57.11 356.00,61.03 356.33,65.72 356.67,65.87 357.00,59.12 357.34,62.99 357.67,58.39 358.01,65.23 358.34,62.81 358.68,69.08 359.01,66.30 359.35,65.74 359.68,72.58 360.02,79.38 360.35,72.72 360.69,75.63 361.02,84.42 361.36,76.12 361.69,85.39 362.03,77.63 362.36,84.38 362.70,84.95 363.03,92.18 363.37,87.13 363.70,87.96 364.04,85.57 364.37,82.16 364.71,82.94 365.04,93.67 365.38,89.01 365.71,89.94 366.04,90.47 366.38,85.53 366.71,87.62 367.05,86.22 367.38,90.39 367.72,84.31 368.05,86.34 368.39,90.44 368.72,87.50 369.06,89.57 369.39,86.75 369.73,86.50 370.06,86.84 370.40,76.92 370.73,67.84 371.07,88.76 371.40,87.63 371.74,87.36 372.07,88.03 372.41,88.06 372.74,79.96 373.08,82.00 373.41,81.19 373.75,82.12 374.08,82.37 374.42,83.50 374.75,85.65 375.09,77.03 375.42,84.50 375.76,78.74 376.09,85.15 376.42,86.51 376.76,87.84 377.09,80.26 377.43,89.43 377.76,84.47 378.10,84.15 378.43,88.04 378.77,86.00 379.10,78.69 379.44,73.20 379.77,76.15 380.11,84.87 380.44,78.08 380.78,76.17 381.11,75.56 381.45,68.44 381.78,74.28 382.12,73.60 382.45,81.96 382.79,73.15 383.12,79.08 383.46,80.09 383.79,78.80 384.13,85.23 384.46,89.46 384.80,87.92 385.13,85.62 385.47,90.48 385.80,77.43 385.80,84.90 385.47,91.70 385.13,91.29 384.80,92.38 384.46,92.58 384.13,90.38 383.79,88.97 383.46,85.61 383.12,84.23 382.79,80.85 382.45,86.73 382.12,83.93 381.78,76.37 381.45,79.13 381.11,79.25 380.78,81.50 380.44,82.28 380.11,90.97 379.77,81.57 379.44,83.10 379.10,83.64 378.77,95.52 378.43,89.70 378.10,88.49 377.76,89.73 377.43,92.72 377.09,87.21 376.76,95.82 376.42,91.13 376.09,89.66 375.76,89.97 375.42,89.00 375.09,81.58 374.75,89.88 374.42,87.28 374.08,84.67 373.75,84.31 373.41,90.13 373.08,89.35 372.74,84.72 372.41,91.31 372.07,90.10 371.74,94.85 371.40,91.53 371.07,91.18 370.73,83.54 370.40,85.99 370.06,93.77 369.73,91.51 369.39,92.04 369.06,94.19 368.72,89.74 368.39,91.69 368.05,89.92 367.72,89.66 367.38,92.75 367.05,88.33 366.71,93.04 366.38,91.35 366.04,94.75 365.71,93.01 365.38,94.04 365.04,96.55 364.71,91.78 364.37,88.87 364.04,91.08 363.70,93.00 363.37,93.20 363.03,94.91 362.70,88.76 362.36,89.61 362.03,91.75 361.69,90.89 361.36,82.79 361.02,88.18 360.69,78.80 360.35,76.15 360.02,84.47 359.68,82.80 359.35,72.73 359.01,71.25 358.68,72.84 358.34,65.84 358.01,68.29 357.67,63.70 357.34,66.75 357.00,63.78 356.67,67.80 356.33,68.62 356.00,64.48 355.67,64.34 355.33,78.31 355.00,76.64 354.66,80.70 354.33,76.74 353.99,79.58 353.66,83.16 353.32,77.96 352.99,85.70 352.65,79.93 352.32,86.99 351.98,86.33 351.65,82.08 351.31,91.65 350.98,88.18 350.64,84.32 350.31,91.30 349.97,90.50 349.64,95.09 349.30,81.98 348.97,87.63 348.63,86.32 348.30,83.63 347.96,80.49 347.63,86.25 347.29,85.14 346.96,87.79 346.62,78.48 346.29,79.26 345.96,82.55 345.62,81.99 345.29,79.20 344.95,77.13 344.62,79.50 344.28,83.32 343.95,83.31 343.61,84.14 343.28,78.97 342.94,79.92 342.61,87.01 342.27,84.13 341.94,89.30 341.60,88.59 341.27,76.26 340.93,81.48 340.60,89.18 340.26,76.76 339.93,82.28 339.59,76.60 339.26,79.55 338.92,72.82 338.59,79.54 338.25,73.34 337.92,67.77 337.58,71.01 337.25,69.39 336.91,67.85 336.58,66.84 336.24,57.97 335.91,62.61 335.58,54.25 335.24,49.99 334.91,50.11 334.57,46.00 334.24,51.91 333.90,55.08 333.57,54.61 333.23,56.84 332.90,55.37 332.56,63.25 332.23,57.42 331.89,65.24 331.56,67.24 331.22,72.00 330.89,79.45 330.55,74.42 330.22,76.72 329.88,68.37 329.55,70.38 329.21,79.21 328.88,79.75 328.54,83.68 328.21,80.83 327.87,80.84 327.54,86.94 327.20,87.50 326.87,89.53 326.53,87.94 326.20,88.62 325.87,85.21 325.53,86.10 325.20,83.65 324.86,80.70 324.53,83.41 324.19,83.02 323.86,84.24 323.52,76.93 323.19,77.53 322.85,79.13 322.52,74.63 322.18,78.19 321.85,77.87 321.51,72.40 321.18,79.98 320.84,83.39 320.51,81.03 320.17,80.71 319.84,74.56 319.50,82.72 319.17,72.14 318.83,67.08 318.50,75.85 318.16,68.33 317.83,68.78 317.49,67.71 317.16,62.83 316.82,60.46 316.49,61.16 316.16,57.14 315.82,60.77 315.49,61.60 315.15,65.78 314.82,60.96 314.48,60.12 314.15,61.33 313.81,64.06 313.48,48.94 313.14,45.34 312.81,55.48 312.47,49.47 312.14,52.98 311.80,54.94 311.47,53.45 311.13,55.72 310.80,58.12 310.46,67.00 310.13,74.88 309.79,73.78 309.46,69.48 309.12,76.19 308.79,77.16 308.45,70.70 308.12,69.46 307.78,71.07 307.45,75.90 307.11,67.81 306.78,74.44 306.44,63.01 306.11,64.26 305.78,69.42 305.44,64.59 305.11,57.55 304.77,58.05 304.44,58.46 304.10,60.69 303.77,51.86 303.43,58.90 303.10,52.72 302.76,54.76 302.43,59.71 302.09,51.42 301.76,62.60 301.42,63.64 301.09,68.71 300.75,74.74 300.42,68.27 300.08,75.00 299.75,74.51 299.41,74.91 299.08,73.85 298.74,73.24 298.41,75.24 298.07,78.66 297.74,64.45 297.40,73.77 297.07,68.67 296.73,71.63 296.40,60.70" fill="#e6550d" fill-opacity="0.16"/>
<polyline points="296.40,60.88 296.73,67.70 297.07,76.73 297.40,80.80 297.74,82.13 298.07,81.09 298.41,80.55 298.74,80.60 299.08,83.01 299.41,84.55 299.75,83.09 300.08,81.43 300.42,82.04 300.75,85.63 301.09,84.05 301.42,81.79 301.76,84.16 302.09,83.02 302.43,83.95 302.76,84.37 303.10,84.33 303.43,86.16 303.77,85.63 304.10,85.22 304.44,86.70 304.77,87.45 305.11,84.68 305.44,86.61 305.78,85.98 306.11,87.19 306.44,86.10 306.78,87.91 307.11,88.08 307.45,88.00 307.78,87.35 308.12,88.37 308.45,87.79 308.79,87.72 309.12,89.84 309.46,88.49 309.79,91.44 310.13,91.09 310.46,88.00 310.80,90.80 311.13,89.30 311.47,90.75 311.80,90.88 312.14,88.61 312.47,90.79 312.81,90.88 313.14,92.43 313.48,90.03 313.81,92.40 314.15,90.37 314.48,91.38 314.82,90.90 315.15,93.69 315.49,92.78 315.82,94.56 316.16,93.10 316.49,93.45 316.82,93.56 317.16,92.00 317.49,92.74 317.83,94.50 318.16,92.59 318.50,93.37 318.83,93.23 319.17,94.05 319.50,93.03 319.84,93.38 320.17,93.93 320.51,93.87 320.84,92.86 321.18,94.98 321.51,92.57 321.85,92.78 322.18,92.79 322.52,95.46 322.85,94.05 323.19,93.45 323.52,93.37 323.86,95.23 324.19,93.66 324.53,93.52 324.86,95.75 325.20,93.81 325.53,94.90 325.87,95.35 326.20,94.96 326.53,95.50 326.87,97.16 327.20,95.18 327.54,94.45 327.87,93.91 328.21,95.83 328.54,95.77 328.88,96.56 329.21,95.85 329.55,95.93 329.88,95.76 330.22,96.06 330.55,96.86 330.89,96.31 331.22,96.89 331.56,98.93 331.89,97.41 332.23,95.19 332.56,98.88 332.90,97.41 333.23,96.04 333.57,98.12 333.90,97.19 334.24,96.55 334.57,96.58 334.91,96.24 335.24,97.42 335.58,98.58 335.91,97.11 336.24,97.97 336.58,99.60 336.91,96.30 337.25,97.94 337.58,97.38 337.92,96.62 338.25,96.70 338.59,97.84 338.92,98.38 339.26,97.39 339.59,98.07 339.93,98.83 340.26,98.42 340.60,99.08 340.93,98.70 341.27,98.77 341.60,100.25 341.94,99.01 342.27,98.54 342.61,99.20 342.94,97.52 343.28,98.19 343.61,99.44 343.95,99.31 344.28,100.33 344.62,98.75 344.95,97.25 345.29,100.87 345.62,99.98 345.96,97.74 346.29,100.31 346.62,98.92 346.96,97.01 347.29,98.48 347.63,98.41 347.96,100.62 348.30,98.15 348.63,98.73 348.97,98.73 349.30,98.64 349.64,98.10 349.97,99.29 350.31,100.20 350.64,99.75 350.98,98.17 351.31,97.96 351.65,99.28 351.98,98.45 352.32,98.55 352.65,97.49 352.99,101.23 353.32,100.19 353.66,98.27 353.99,100.21 354.33,100.67 354.66,97.29 355.00,98.78 355.33,98.96 355.67,100.03 356.00,99.27 356.33,99.18 356.67,99.37 357.00,101.32 357.34,101.48 357.67,98.95 358.01,98.57 358.34,101.52 358.68,98.54 359.01,98.96 359.35,99.59 359.68,100.04 360.02,100.60 360.35,99.97 360.69,98.73 361.02,100.11 361.36,99.87 361.69,101.49 362.03,99.63 362.36,98.34 362.70,98.64 363.03,101.11 363.37,99.16 363.70,97.74 364.04,99.15 364.37,99.73 364.71,100.91 365.04,98.76 365.38,100.42 365.71,100.55 366.04,99.11 366.38,99.62 366.71,101.53 367.05,101.50 367.38,100.67 367.72,100.17 368.05,100.96 368.39,99.74 368.72,99.79 369.06,99.07 369.39,99.92 369.73,99.84 370.06,101.85 370.40,99.76 370.73,101.17 371.07,101.23 371.40,99.80 371.74,101.11 372.07,98.10 372.41,100.11 372.74,100.84 373.08,98.15 373.41,98.96 373.75,101.07 374.08,99.84 374.42,99.05 374.75,99.75 375.09,99.60 375.42,100.81 375.76,100.56 376.09,99.89 376.42,99.54 376.76,100.12 377.09,101.42 377.43,100.52 377.76,100.81 378.10,100.08 378.43,99.04 378.77,99.59 379.10,100.86 379.44,100.37 379.77,99.45 380.11,98.80 380.44,100.41 380.78,100.01 381.11,100.01 381.45,100.04 381.78,100.62 382.12,100.64 382.45,101.26 382.79,101.24 383.12,101.62 383.46,101.15 383.79,100.12 384.13,100.39 384.46,100.90 384.80,100.18 385.13,100.97 385.47,101.53 385.80,99.78" fill="none" stroke="#e6550d" stroke-width="1.8" stroke-linejoin="round" />
<polyline points="296.40,57.57 296.73,71.05 297.07,67.17 297.40,71.10 297.74,63.62 298.07,77.38 298.41,73.90 298.74,70.96 299.08,70.69 299.41,73.30 299.75,72.80 300.08,72.18 300.42,66.02 300.75,73.20 301.09,65.14 301.42,62.93 301.76,60.81 302.09,50.14 302.43,58.50 302.76,52.94 303.10,51.06 303.43,51.98 303.77,49.48 304.10,58.69 304.44,54.17 304.77,55.10 305.11,57.01 305.44,62.85 305.78,66.91 306.11,63.13 306.44,61.09 306.78,73.21 307.11,65.80 307.45,75.29 307.78,70.56 308.12,68.30 308.45,68.87 308.79,73.65 309.12,74.84 309.46,68.45 309.79,71.04 310.13,73.25 310.46,62.39 310.80,56.61 311.13,55.22 311.47,52.46 311.80,54.04 312.14,52.28 312.47,48.47 312.81,54.43 313.14,44.02 313.48,47.81 313.81,62.06 314.15,59.33 314.48,58.38 314.82,59.21 315.15,65.27 315.49,61.02 315.82,59.84 316.16,55.33 316.49,60.50 316.82,59.25 317.16,61.03 317.49,62.68 317.83,66.97 318.16,67.20 318.50,72.89 318.83,65.33 319.17,70.85 319.50,79.74 319.84,73.67 320.17,78.99 320.51,79.42 320.84,80.78 321.18,79.21 321.51,71.70 321.85,76.66 322.18,76.90 322.52,73.08 322.85,77.92 323.19,75.58 323.52,74.66 323.86,82.52 324.19,82.22 324.53,80.42 324.86,80.09 325.20,82.33 325.53,83.56 325.87,84.18 326.20,85.40 326.53,83.28 326.87,85.73 327.20,85.57 327.54,84.27 327.87,79.75 328.21,78.94 328.54,81.73 328.88,78.18 329.21,77.59 329.55,69.08 329.88,67.91 330.22,74.85 330.55,72.64 330.89,74.43 331.22,69.74 331.56,65.70 331.89,62.76 332.23,55.29 332.56,61.80 332.90,54.20 333.23,56.23 333.57,53.03 333.90,51.22 334.24,51.43 334.57,45.17 334.91,47.81 335.24,48.35 335.58,52.37 335.91,62.13 336.24,56.95 336.58,64.87 336.91,65.78 337.25,67.66 337.58,70.16 337.92,65.77 338.25,72.63 338.59,78.71 338.92,72.09 339.26,76.12 339.59,75.47 339.93,80.79 340.26,76.37 340.60,86.40 340.93,79.58 341.27,75.72 341.60,88.03 341.94,85.42 342.27,83.31 342.61,82.69 342.94,78.84 343.28,78.65 343.61,81.36 343.95,81.38 344.28,81.18 344.62,78.45 344.95,75.87 345.29,76.68 345.62,81.12 345.96,82.11 346.29,76.81 346.62,77.50 346.96,84.75 347.29,84.07 347.63,85.15 347.96,79.27 348.30,83.29 348.63,83.47 348.97,86.66 349.30,80.73 349.64,91.71 349.97,88.99 350.31,88.90 350.64,82.60 350.98,85.95 351.31,90.00 351.65,79.28 351.98,85.09 352.32,85.14 352.65,79.01 352.99,82.86 353.32,77.58 353.66,81.59 353.99,77.84 354.33,75.03 354.66,79.31 355.00,73.53 355.33,73.37 355.67,63.37 356.00,64.04 356.33,67.89 356.67,66.94 357.00,62.50 357.34,65.41 357.67,61.06 358.01,67.22 358.34,64.49 358.68,71.36 359.01,70.43 359.35,71.59 359.68,75.60 360.02,83.17 360.35,75.38 360.69,78.43 361.02,85.63 361.36,81.66 361.69,89.96 362.03,85.82 362.36,86.39 362.70,88.27 363.03,93.80 363.37,90.71 363.70,90.76 364.04,90.38 364.37,84.92 364.71,87.65 365.04,95.85 365.38,93.57 365.71,92.42 366.04,92.73 366.38,88.77 366.71,91.53 367.05,87.39 367.38,91.48 367.72,87.78 368.05,89.27 368.39,91.21 368.72,88.46 369.06,91.38 369.39,90.54 369.73,90.00 370.06,92.88 370.40,83.67 370.73,83.06 371.07,89.90 371.40,90.60 371.74,93.64 372.07,89.34 372.41,89.23 372.74,83.45 373.08,88.43 373.41,88.34 373.75,83.03 374.08,83.71 374.42,86.36 374.75,87.78 375.09,80.84 375.42,87.85 375.76,88.86 376.09,88.08 376.42,89.97 376.76,91.06 377.09,86.75 377.43,90.87 377.76,88.45 378.10,85.96 378.43,89.21 378.77,92.84 379.10,83.07 379.44,81.14 379.77,79.81 380.11,89.66 380.44,81.46 380.78,80.71 381.11,77.89 381.45,78.31 381.78,75.97 382.12,83.50 382.45,84.66 382.79,78.75 383.12,82.49 383.46,84.29 383.79,87.36 384.13,88.65 384.46,91.09 384.80,91.58 385.13,90.46 385.47,91.06 385.80,83.50" fill="none" stroke="#e6550d" stroke-width="1.8" stroke-linejoin="round" stroke-dasharray="1.8 2.2"/>
<polyline points="60.70,186.30 61.40,183.70 62.20,186.30 63.30,190.50 64.50,190.50 65.60,187.10 66.70,186.30 67.90,189.70 69.00,185.90 69.80,186.70 70.50,185.20 71.70,184.40 72.80,184.40 73.60,185.20 74.30,189.70 75.30,190.90 76.20,185.20 77.00,182.10 77.90,181.40 78.50,183.70 79.10,187.50 80.00,185.20 80.40,189.70 81.50,188.20 83.10,189.00 84.00,185.90 85.00,189.70 86.50,189.40 87.60,190.50 89.10,188.20 90.60,186.70 91.80,187.50 92.90,185.20 94.10,188.60 95.20,187.50 96.30,185.90 97.50,182.50 98.20,184.40 99.00,189.40 100.10,189.70 101.30,186.70 102.00,189.40 103.40,184.00 104.30,186.70 105.50,190.50 106.60,189.00 107.70,185.90 108.90,189.00 109.10,188.60 110.30,187.80 111.40,189.70 112.60,188.20 113.50,190.50 114.50,186.30 115.60,183.70 116.50,184.80 117.50,186.70 118.30,187.10 119.00,182.10 120.00,181.40 120.50,184.40 121.30,178.70 122.00,190.50 122.80,189.00 123.90,186.30 125.10,189.70 126.20,188.60 127.40,187.50 128.50,189.00 129.60,188.20 131.20,185.60 132.10,189.70 133.40,187.80 134.60,188.60 135.70,188.20 137.20,186.30 138.40,189.70 139.10,185.60 139.90,189.00 141.00,186.30 142.20,189.70 143.30,188.60 144.80,182.50 146.00,184.00 147.50,187.50 148.60,190.10 149.80,186.00 150.90,186.30 152.00,188.20 153.60,189.40 155.10,190.90 156.20,189.70 157.40,183.30 158.70,181.00" fill="none" stroke="#000" stroke-width="1.9" stroke-linejoin="round" />
<polyline points="169.20,141.30 169.70,149.70 171.30,151.30 172.90,150.20 173.90,133.90 175.50,134.50 176.60,143.90 178.40,158.10 179.70,140.80 180.80,150.70 181.80,152.30 183.10,142.90 184.40,145.50 185.50,145.00 186.50,146.50 187.60,145.00 188.60,155.50 189.70,153.40 190.70,145.00 192.30,153.40 193.40,158.60 194.90,152.80 196.00,157.60 197.00,154.40 198.40,151.80 199.70,146.50 200.70,153.40 202.00,164.90 203.30,158.10 204.70,158.10 206.00,165.40 207.00,159.70 208.10,164.90 209.60,157.60 210.70,166.50 211.70,158.60 212.80,164.90 213.80,165.40 214.90,169.10 216.50,171.20 218.00,155.50 219.60,156.50 221.20,162.80 222.80,168.10 224.30,167.00 225.40,159.70 227.00,158.60 228.00,162.80 229.60,157.60 230.10,161.00 232.00,169.90 233.30,161.00 234.30,166.80 235.40,160.00 236.40,164.20 238.00,167.80 239.00,167.80 241.10,161.00 242.70,162.60 244.00,173.60 245.30,166.30 246.70,168.40 248.00,164.70 249.50,177.80 250.60,170.50 252.00,164.20 253.20,164.70 254.30,173.10 256.20,165.20 257.60,160.50 259.30,165.70 261.40,180.40 262.70,180.40 264.20,159.40 265.80,165.20 267.40,173.60 268.40,174.70 270.00,177.80 271.60,172.60 272.60,163.60 274.20,161.00 275.50,157.30 277.20,169.90 278.60,161.00 280.00,172.60 281.40,182.00 282.10,171.50 283.10,168.40 284.50,165.70 285.20,169.90" fill="none" stroke="#000" stroke-width="1.9" stroke-linejoin="round" />
<polyline points="298.00,145.10 298.80,142.90 299.60,148.90 300.40,156.50 301.30,157.60 302.10,166.80 302.80,161.90 303.70,167.40 304.60,160.90 305.30,161.40 306.40,167.40 307.20,166.80 308.30,175.00 309.10,172.80 310.00,166.80 310.80,173.90 311.90,172.30 313.00,175.00 314.00,175.50 315.10,187.50 316.80,175.50 318.10,176.60 319.50,179.30 321.10,183.20 322.70,185.30 324.40,184.80 326.00,178.80 327.40,182.60 328.20,187.50 329.30,183.70 330.40,178.30 331.50,185.90 332.20,172.30 333.10,184.80 334.20,180.40 335.50,185.90 336.90,181.00 338.50,178.80 339.60,188.60 341.20,189.70 342.60,184.80 343.30,174.60 344.00,174.20 344.70,181.90 345.80,186.30 346.90,188.10 348.80,189.90 349.90,181.90 351.30,179.30 352.80,181.90 353.50,189.90 354.60,188.10 355.70,190.70 356.80,187.40 357.90,188.80 359.10,185.20 359.60,179.70 360.40,183.40 361.20,181.20 362.30,185.50 363.00,187.00 364.10,179.70 365.50,176.40 366.40,175.30 367.40,181.90 368.10,189.20 369.90,189.60 371.40,189.90 372.10,187.70 373.20,189.20 374.30,189.90 375.40,185.50 376.50,186.60 377.60,187.00 378.50,190.70 379.40,179.30 381.20,177.50 382.30,184.80 383.60,185.50 384.50,189.90 385.60,190.70" fill="none" stroke="#000" stroke-width="1.9" stroke-linejoin="round" />
<text transform="translate(412.80 16.00)" x="0.50" y="0" font-size="13.97" stroke="#000" stroke-width="0.15" font-weight="bold">b</text>
<line x1="457.60" y1="35.60" x2="457.60" y2="104.30" stroke="#000" stroke-width="0.9" />
<line x1="457.60" y1="104.30" x2="685.00" y2="104.30" stroke="#000" stroke-width="0.9" />
<line x1="454.10" y1="51.60" x2="457.60" y2="51.60" stroke="#000" stroke-width="0.8" />
<text transform="translate(451.60 55.17)" x="-5.98" y="0" font-size="10.29" stroke="#000" stroke-width="0.15">2</text>
<line x1="454.10" y1="76.45" x2="457.60" y2="76.45" stroke="#000" stroke-width="0.8" />
<text transform="translate(451.60 80.02)" x="-5.98" y="0" font-size="10.29" stroke="#000" stroke-width="0.15">1</text>
<line x1="454.10" y1="101.30" x2="457.60" y2="101.30" stroke="#000" stroke-width="0.8" />
<text transform="translate(451.60 104.87)" x="-5.98" y="0" font-size="10.29" stroke="#000" stroke-width="0.15">0</text>
<line x1="467.60" y1="104.30" x2="467.60" y2="107.80" stroke="#000" stroke-width="0.8" />
<line x1="570.70" y1="104.30" x2="570.70" y2="107.80" stroke="#000" stroke-width="0.8" />
<line x1="674.80" y1="104.30" x2="674.80" y2="107.80" stroke="#000" stroke-width="0.8" />
<text transform="translate(570.60 41.80)" x="-28.85 -24.79 -21.38 -14.60 -7.59 -0.25 2.98 11.49 20.32" y="0" font-size="12.39" stroke="#000" stroke-width="0.15">fixed RNN</text>
<polyline points="466.80,100.90 519.00,100.90 570.70,100.90 622.40,100.90 674.50,100.90" fill="none" stroke="#a3d2e3" stroke-width="2" stroke-linejoin="round" stroke-linecap="round"/>
<polyline points="466.80,100.20 519.00,98.10 570.70,93.90 622.40,91.00 674.50,91.00" fill="none" stroke="#00008b" stroke-width="2" stroke-linejoin="round" stroke-linecap="round"/>
<rect x="620.3" y="89" width="4" height="4" fill="#00008b"/>
<polyline points="466.80,44.40 519.00,53.60 570.70,67.40 622.40,79.20 674.50,86.40" fill="none" stroke="#006400" stroke-width="2" stroke-linejoin="round" stroke-linecap="round"/>
<line x1="466.80" y1="41.00" x2="466.80" y2="48.00" stroke="#006400" stroke-width="1.5" />
<line x1="464.50" y1="41.00" x2="469.10" y2="41.00" stroke="#006400" stroke-width="1.5" />
<line x1="464.50" y1="48.00" x2="469.10" y2="48.00" stroke="#006400" stroke-width="1.5" />
<line x1="519.00" y1="48.00" x2="519.00" y2="59.40" stroke="#006400" stroke-width="1.5" />
<line x1="516.70" y1="48.00" x2="521.30" y2="48.00" stroke="#006400" stroke-width="1.5" />
<line x1="516.70" y1="59.40" x2="521.30" y2="59.40" stroke="#006400" stroke-width="1.5" />
<line x1="570.70" y1="62.20" x2="570.70" y2="72.40" stroke="#006400" stroke-width="1.5" />
<line x1="568.40" y1="62.20" x2="573.00" y2="62.20" stroke="#006400" stroke-width="1.5" />
<line x1="568.40" y1="72.40" x2="573.00" y2="72.40" stroke="#006400" stroke-width="1.5" />
<line x1="622.40" y1="75.80" x2="622.40" y2="81.90" stroke="#006400" stroke-width="1.5" />
<line x1="620.10" y1="75.80" x2="624.70" y2="75.80" stroke="#006400" stroke-width="1.5" />
<line x1="620.10" y1="81.90" x2="624.70" y2="81.90" stroke="#006400" stroke-width="1.5" />
<line x1="674.50" y1="85.50" x2="674.50" y2="87.50" stroke="#006400" stroke-width="1.5" />
<line x1="672.20" y1="85.50" x2="676.80" y2="85.50" stroke="#006400" stroke-width="1.5" />
<line x1="672.20" y1="87.50" x2="676.80" y2="87.50" stroke="#006400" stroke-width="1.5" />
<line x1="457.60" y1="125.00" x2="457.60" y2="193.20" stroke="#000" stroke-width="0.9" />
<line x1="457.60" y1="193.20" x2="685.00" y2="193.20" stroke="#000" stroke-width="0.9" />
<line x1="454.10" y1="140.60" x2="457.60" y2="140.60" stroke="#000" stroke-width="0.8" />
<text transform="translate(451.60 144.17)" x="-5.98" y="0" font-size="10.29" stroke="#000" stroke-width="0.15">2</text>
<line x1="454.10" y1="166.00" x2="457.60" y2="166.00" stroke="#000" stroke-width="0.8" />
<text transform="translate(451.60 169.57)" x="-5.98" y="0" font-size="10.29" stroke="#000" stroke-width="0.15">1</text>
<line x1="454.10" y1="191.40" x2="457.60" y2="191.40" stroke="#000" stroke-width="0.8" />
<text transform="translate(451.60 194.97)" x="-5.98" y="0" font-size="10.29" stroke="#000" stroke-width="0.15">0</text>
<line x1="476.00" y1="193.20" x2="476.00" y2="196.70" stroke="#000" stroke-width="0.8" />
<text transform="translate(476.00 208.70)" x="-7.52 -1.46" y="0" font-size="10.29" stroke="#000" stroke-width="0.15">0%</text>
<line x1="570.70" y1="193.20" x2="570.70" y2="196.70" stroke="#000" stroke-width="0.8" />
<text transform="translate(570.70 208.70)" x="-10.63 -4.40 1.66" y="0" font-size="10.29" stroke="#000" stroke-width="0.15">50%</text>
<line x1="665.50" y1="193.20" x2="665.50" y2="196.70" stroke="#000" stroke-width="0.8" />
<text transform="translate(665.50 208.70)" x="-13.75 -7.52 -1.28 4.78" y="0" font-size="10.29" stroke="#000" stroke-width="0.15">100%</text>
<text transform="translate(570.70 130.80)" x="-33.38 -29.28 -21.84 -18.56 -15.15 -8.40 -4.51 2.94 6.13 13.17 19.93 24.23 27.39" y="0" font-size="12.39" stroke="#000" stroke-width="0.15">fully plastic</text>
<polyline points="476.00,191.60 523.40,191.60 570.70,191.60 618.10,191.60 665.50,191.60" fill="none" stroke="#a3d2e3" stroke-width="2" stroke-linejoin="round" stroke-dasharray="1.5 3"/>
<polyline points="476.00,161.00 523.40,164.00 570.70,167.20 618.10,170.10 665.50,173.50" fill="none" stroke="#006400" stroke-width="2" stroke-linejoin="round" stroke-dasharray="1.5 3"/>
<polyline points="476.00,176.40 523.40,172.00 570.70,171.70 618.10,167.90 665.50,165.60" fill="none" stroke="#00008b" stroke-width="2" stroke-linejoin="round" stroke-dasharray="1.5 3"/>
<line x1="476.00" y1="156.40" x2="476.00" y2="165.60" stroke="#006400" stroke-width="1.5" />
<line x1="473.70" y1="156.40" x2="478.30" y2="156.40" stroke="#006400" stroke-width="1.5" />
<line x1="473.70" y1="165.60" x2="478.30" y2="165.60" stroke="#006400" stroke-width="1.5" />
<line x1="523.40" y1="159.00" x2="523.40" y2="169.00" stroke="#006400" stroke-width="1.5" />
<line x1="521.10" y1="159.00" x2="525.70" y2="159.00" stroke="#006400" stroke-width="1.5" />
<line x1="521.10" y1="169.00" x2="525.70" y2="169.00" stroke="#006400" stroke-width="1.5" />
<line x1="570.70" y1="161.80" x2="570.70" y2="172.40" stroke="#006400" stroke-width="1.5" />
<line x1="568.40" y1="161.80" x2="573.00" y2="161.80" stroke="#006400" stroke-width="1.5" />
<line x1="568.40" y1="172.40" x2="573.00" y2="172.40" stroke="#006400" stroke-width="1.5" />
<line x1="618.10" y1="165.60" x2="618.10" y2="174.20" stroke="#006400" stroke-width="1.5" />
<line x1="615.80" y1="165.60" x2="620.40" y2="165.60" stroke="#006400" stroke-width="1.5" />
<line x1="615.80" y1="174.20" x2="620.40" y2="174.20" stroke="#006400" stroke-width="1.5" />
<line x1="665.50" y1="166.70" x2="665.50" y2="180.30" stroke="#006400" stroke-width="1.5" />
<line x1="663.20" y1="166.70" x2="667.80" y2="166.70" stroke="#006400" stroke-width="1.5" />
<line x1="663.20" y1="180.30" x2="667.80" y2="180.30" stroke="#006400" stroke-width="1.5" />
<line x1="476.00" y1="174.00" x2="476.00" y2="179.00" stroke="#00008b" stroke-width="1.5" />
<line x1="473.70" y1="174.00" x2="478.30" y2="174.00" stroke="#00008b" stroke-width="1.5" />
<line x1="473.70" y1="179.00" x2="478.30" y2="179.00" stroke="#00008b" stroke-width="1.5" />
<line x1="523.40" y1="167.00" x2="523.40" y2="177.00" stroke="#00008b" stroke-width="1.5" />
<line x1="521.10" y1="167.00" x2="525.70" y2="167.00" stroke="#00008b" stroke-width="1.5" />
<line x1="521.10" y1="177.00" x2="525.70" y2="177.00" stroke="#00008b" stroke-width="1.5" />
<line x1="570.70" y1="167.90" x2="570.70" y2="174.70" stroke="#00008b" stroke-width="1.5" />
<line x1="568.40" y1="167.90" x2="573.00" y2="167.90" stroke="#00008b" stroke-width="1.5" />
<line x1="568.40" y1="174.70" x2="573.00" y2="174.70" stroke="#00008b" stroke-width="1.5" />
<line x1="618.10" y1="164.50" x2="618.10" y2="171.30" stroke="#00008b" stroke-width="1.5" />
<line x1="615.80" y1="164.50" x2="620.40" y2="164.50" stroke="#00008b" stroke-width="1.5" />
<line x1="615.80" y1="171.30" x2="620.40" y2="171.30" stroke="#00008b" stroke-width="1.5" />
<line x1="665.50" y1="163.30" x2="665.50" y2="167.90" stroke="#00008b" stroke-width="1.5" />
<line x1="663.20" y1="163.30" x2="667.80" y2="163.30" stroke="#00008b" stroke-width="1.5" />
<line x1="663.20" y1="167.90" x2="667.80" y2="167.90" stroke="#00008b" stroke-width="1.5" />
<text transform="translate(570.50 223.75)" x="-57.94 -50.64 -43.31 -39.12 -34.91 -27.88 -21.39 -14.72 -10.96 -3.51 3.27 10.71 15.46 18.64 26.00 33.35 37.18 41.65 53.00" y="0" font-size="12.39" stroke="#000" stroke-width="0.15">PF task overlap (%)</text>
<text transform="translate(432.40 121.70) rotate(-90)" x="-59.18 -51.73 -44.96 -37.52 -32.86 -25.50 -18.12 -10.89 -7.11 0.33 5.18 9.62 16.78 21.42 25.26 29.55 39.42 46.89 54.99" y="0" font-size="12.39" stroke="#000" stroke-width="0.15">average error (MSE)</text>
<polygon points="476.00,213.00 485.80,219.00 479.00,219.00 479.00,226.00 473.00,226.00 473.00,219.00 466.20,219.00" fill="#fff" stroke="#000" stroke-width="1"/>
<polygon points="665.50,213.00 675.30,219.00 668.50,219.00 668.50,226.00 662.50,226.00 662.50,219.00 655.70,219.00" fill="#fff" stroke="#000" stroke-width="1"/>
<text transform="translate(476.00 236.90)" x="-11.02 -7.03 -0.94 3.22 7.60" y="0" font-size="10.29" stroke="#000" stroke-width="0.15" font-weight="bold">(c-f)</text>
<text transform="translate(665.40 236.90)" x="-7.26 -2.86 3.83" y="0" font-size="10.29" stroke="#000" stroke-width="0.15" font-weight="bold">(a)</text>
<text transform="translate(-0.90 268.20)" x="0.06" y="0" font-size="13.97" stroke="#000" stroke-width="0.15" font-weight="bold">c</text>
<text transform="translate(96.30 267.00)" x="-17.46 -13.25 -6.21 0.28 6.94 10.85" y="0" font-size="12.39" fill="#92c5de" stroke="#92c5de" stroke-width="0.15">task 1</text>
<text transform="translate(96.30 280.20)" x="-29.08 -24.41 -17.05 -10.01 -3.66 3.68 6.96 10.27 17.64 24.95" y="0" font-size="12.39" fill="#92c5de" stroke="#92c5de" stroke-width="0.15">(baseline)</text>
<text transform="translate(215.00 272.60)" x="-17.46 -13.25 -6.21 0.28 6.94 10.85" y="0" font-size="12.39" fill="#006400" stroke="#006400" stroke-width="0.15">task 2</text>
<text transform="translate(334.00 267.00)" x="-17.46 -13.25 -6.21 0.28 6.94 10.85" y="0" font-size="12.39" fill="#00008b" stroke="#00008b" stroke-width="0.15">task 1</text>
<text transform="translate(334.00 280.20)" x="-52.68 -48.32 -41.94 -34.50 -29.85 -22.99 -18.60 -12.13 -4.78 2.86 7.05 10.62 17.15 26.71 30.32 34.50 41.13 48.56" y="0" font-size="12.39" fill="#00008b" stroke="#00008b" stroke-width="0.15">(zero-shot switch)</text>
<text transform="translate(29.00 333.50) rotate(-90)" x="-33.98 -29.20 -25.18 -17.20 -8.94 -0.29 3.51 13.53 23.93" y="0" font-size="14.60" stroke="#000" stroke-width="0.15">fixed RNN</text>
<text transform="translate(29.10 450.10) rotate(-90)" x="-39.32 -34.50 -25.72 -21.86 -17.84 -9.90 -5.31 3.47 7.22 15.51 23.48 28.54 32.27" y="0" font-size="14.60" stroke="#000" stroke-width="0.15">fully plastic</text>
<line x1="95.60" y1="333.50" x2="95.60" y2="290.70" stroke="#a0a0a0" stroke-width="0.6" />
<line x1="95.60" y1="333.50" x2="49.57" y2="320.27" stroke="#a0a0a0" stroke-width="0.6" />
<line x1="95.60" y1="333.50" x2="67.15" y2="368.13" stroke="#a0a0a0" stroke-width="0.6" />
<line x1="95.60" y1="333.50" x2="124.05" y2="368.13" stroke="#a0a0a0" stroke-width="0.6" />
<line x1="95.60" y1="333.50" x2="141.63" y2="320.27" stroke="#a0a0a0" stroke-width="0.6" />
<path d="M95.60,333.50 C95.48,332.08 94.90,328.42 94.90,325.00 C94.90,321.58 95.32,316.83 95.60,313.00 C95.88,309.17 96.30,305.23 96.60,302.00 C96.90,298.77 97.27,295.00 97.40,293.60" fill="none" stroke="#d62728" stroke-width="1.4" stroke-linecap="round" stroke-linejoin="round" />
<path d="M95.60,333.50 C93.83,332.92 88.43,331.08 85.00,330.00 C81.57,328.92 78.83,327.92 75.00,327.00 C71.17,326.08 66.33,325.43 62.00,324.50 C57.67,323.57 51.17,321.92 49.00,321.40" fill="none" stroke="#92c5de" stroke-width="1.4" stroke-linecap="round" stroke-linejoin="round" />
<path d="M95.60,333.50 C96.33,333.08 97.93,332.00 100.00,331.00 C102.07,330.00 105.00,328.53 108.00,327.50 C111.00,326.47 114.33,325.58 118.00,324.80 C121.67,324.02 125.93,323.43 130.00,322.80 C134.07,322.17 140.33,321.30 142.40,321.00" fill="none" stroke="#8c564b" stroke-width="1.4" stroke-linecap="round" stroke-linejoin="round" />
<path d="M95.60,333.50 C95.08,334.17 93.85,335.75 92.50,337.50 C91.15,339.25 89.50,341.58 87.50,344.00 C85.50,346.42 82.67,349.25 80.50,352.00 C78.33,354.75 76.42,357.93 74.50,360.50 C72.58,363.07 69.92,366.25 69.00,367.40" fill="none" stroke="#006400" stroke-width="1.6" stroke-linecap="round" stroke-linejoin="round" />
<path d="M95.60,333.50 C96.50,334.75 98.77,338.25 101.00,341.00 C103.23,343.75 106.42,347.08 109.00,350.00 C111.58,352.92 114.07,355.67 116.50,358.50 C118.93,361.33 122.42,365.58 123.60,367.00" fill="none" stroke="#f2ca00" stroke-width="1.6" stroke-linecap="round" stroke-linejoin="round" />
<line x1="94.60" y1="334.00" x2="98.60" y2="332.00" stroke="#00008b" stroke-width="1.6" />
<path d="M215.34,334.01 C215.50,332.67 216.62,328.92 216.30,325.99 C215.98,323.07 215.18,319.31 213.44,316.45 C211.69,313.59 209.30,310.57 205.80,308.82 C202.30,307.07 196.90,305.80 192.44,305.95 C187.99,306.11 183.06,307.39 179.08,309.77 C175.11,312.16 170.34,318.52 168.59,320.27" fill="none" stroke="#a0a0a0" stroke-width="0.6" stroke-linecap="round" stroke-linejoin="round" />
<path d="M215.34,334.01 C217.57,333.69 225.20,333.44 228.70,332.10 C232.20,330.76 234.59,328.60 236.34,325.99 C238.09,323.38 238.88,319.63 239.20,316.45 C239.52,313.27 239.36,310.09 238.24,306.91 C237.13,303.73 235.06,299.91 232.52,297.37 C229.97,294.82 225.84,292.76 222.98,291.64 C220.11,290.53 216.62,290.85 215.34,290.69" fill="none" stroke="#a0a0a0" stroke-width="0.6" stroke-linecap="round" stroke-linejoin="round" />
<path d="M215.34,334.01 C215.98,335.22 217.25,338.94 219.16,341.26 C221.07,343.58 222.98,346.51 226.79,347.94 C230.61,349.37 237.29,350.64 242.06,349.85 C246.83,349.05 252.08,346.19 255.42,343.17 C258.76,340.15 261.15,335.38 262.10,331.72 C263.05,328.06 261.30,322.97 261.15,321.22" fill="none" stroke="#a0a0a0" stroke-width="0.6" stroke-linecap="round" stroke-linejoin="round" />
<path d="M215.34,334.01 C214.07,334.90 209.46,336.55 207.71,339.35 C205.96,342.15 205.01,346.99 204.85,350.80 C204.69,354.62 205.01,358.91 206.76,362.25 C208.51,365.59 211.37,368.93 215.34,370.84 C219.32,372.75 226.00,373.86 230.61,373.70 C235.22,373.54 240.95,370.52 243.02,369.89" fill="none" stroke="#a0a0a0" stroke-width="0.6" stroke-linecap="round" stroke-linejoin="round" />
<path d="M215.34,334.01 C213.75,333.63 209.30,332.04 205.80,331.72 C202.30,331.40 198.49,330.99 194.35,332.10 C190.22,333.21 184.17,335.60 180.99,338.40 C177.81,341.20 176.06,345.24 175.27,348.89 C174.47,352.55 174.47,356.85 176.22,360.34 C177.97,363.84 184.17,368.30 185.76,369.89" fill="none" stroke="#a0a0a0" stroke-width="0.6" stroke-linecap="round" stroke-linejoin="round" />
<path d="M215.30,334.00 C215.47,332.63 216.62,328.92 216.30,325.80 C215.98,322.68 215.15,318.17 213.40,315.30 C211.65,312.43 209.30,310.18 205.80,308.60 C202.30,307.02 196.87,305.63 192.40,305.80 C187.93,305.97 182.97,307.70 179.00,309.60 C175.03,311.50 170.33,315.93 168.60,317.20" fill="none" stroke="#92c5de" stroke-width="1.4" stroke-linecap="round" stroke-linejoin="round" />
<path d="M215.30,334.00 C216.90,333.58 221.40,332.70 224.90,331.50 C228.40,330.30 233.28,328.72 236.30,326.80 C239.32,324.88 241.72,323.03 243.00,320.00 C244.28,316.97 244.47,312.25 244.00,308.60 C243.53,304.95 242.58,301.12 240.20,298.10 C237.82,295.08 231.45,291.77 229.70,290.50" fill="none" stroke="#d62728" stroke-width="1.4" stroke-linecap="round" stroke-linejoin="round" />
<path d="M215.30,334.00 C215.63,334.87 216.02,337.38 217.30,339.20 C218.58,341.02 219.83,343.32 223.00,344.90 C226.17,346.48 231.85,348.38 236.30,348.70 C240.75,349.02 245.88,348.38 249.70,346.80 C253.52,345.22 257.30,342.22 259.20,339.20 C261.10,336.18 260.78,330.45 261.10,328.70" fill="none" stroke="#8c564b" stroke-width="1.4" stroke-linecap="round" stroke-linejoin="round" />
<path d="M215.30,334.00 C213.72,334.87 208.02,337.07 205.80,339.20 C203.58,341.33 202.47,343.63 202.00,346.80 C201.53,349.97 201.73,354.70 203.00,358.20 C204.27,361.70 206.27,365.40 209.60,367.80 C212.93,370.20 218.23,371.97 223.00,372.60 C227.77,373.23 235.67,371.77 238.20,371.60" fill="none" stroke="#f2ca00" stroke-width="1.6" stroke-linecap="round" stroke-linejoin="round" />
<path d="M215.30,334.00 C214.03,333.65 210.55,332.47 207.70,331.90 C204.85,331.33 200.75,330.50 198.20,330.60 C195.65,330.70 194.63,331.07 192.40,332.50 C190.17,333.93 187.02,336.18 184.80,339.20 C182.58,342.22 180.22,347.43 179.10,350.60 C177.98,353.77 177.78,355.82 178.10,358.20 C178.42,360.58 180.52,363.78 181.00,364.90" fill="none" stroke="#006400" stroke-width="1.6" stroke-linecap="round" stroke-linejoin="round" />
<path d="M216.30,335.60 C216.83,335.50 218.47,335.33 219.50,335.00 C220.53,334.67 221.65,334.10 222.50,333.60 C223.35,333.10 224.25,332.27 224.60,332.00" fill="none" stroke="#00008b" stroke-width="1.9" stroke-linecap="round" stroke-linejoin="round" />
<line x1="333.40" y1="333.40" x2="333.40" y2="290.60" stroke="#a0a0a0" stroke-width="0.6" />
<line x1="333.40" y1="333.40" x2="287.37" y2="320.17" stroke="#a0a0a0" stroke-width="0.6" />
<line x1="333.40" y1="333.40" x2="304.95" y2="368.03" stroke="#a0a0a0" stroke-width="0.6" />
<line x1="333.40" y1="333.40" x2="361.85" y2="368.03" stroke="#a0a0a0" stroke-width="0.6" />
<line x1="333.40" y1="333.40" x2="379.43" y2="320.17" stroke="#a0a0a0" stroke-width="0.6" />
<path d="M333.40,333.40 C333.60,332.17 334.50,328.57 334.60,326.00 C334.70,323.43 333.90,320.67 334.00,318.00 C334.10,315.33 335.10,313.00 335.20,310.00 C335.30,307.00 334.58,303.42 334.60,300.00 C334.62,296.58 335.18,291.25 335.30,289.50" fill="none" stroke="#d62728" stroke-width="1.4" stroke-linecap="round" stroke-linejoin="round" />
<path d="M333.40,333.40 C332.00,332.75 328.40,330.68 325.00,329.50 C321.60,328.32 317.17,327.38 313.00,326.30 C308.83,325.22 304.28,323.95 300.00,323.00 C295.72,322.05 289.42,321.00 287.30,320.60" fill="none" stroke="#92c5de" stroke-width="1.4" stroke-linecap="round" stroke-linejoin="round" />
<path d="M333.40,333.40 C334.83,333.25 338.90,333.07 342.00,332.50 C345.10,331.93 348.67,331.08 352.00,330.00 C355.33,328.92 358.67,327.08 362.00,326.00 C365.33,324.92 368.72,324.10 372.00,323.50 C375.28,322.90 380.08,322.58 381.70,322.40" fill="none" stroke="#8c564b" stroke-width="1.4" stroke-linecap="round" stroke-linejoin="round" />
<path d="M333.40,333.40 C332.33,334.50 328.90,337.90 327.00,340.00 C325.10,342.10 323.83,343.67 322.00,346.00 C320.17,348.33 318.00,351.33 316.00,354.00 C314.00,356.67 311.87,359.55 310.00,362.00 C308.13,364.45 305.67,367.58 304.80,368.70" fill="none" stroke="#006400" stroke-width="1.6" stroke-linecap="round" stroke-linejoin="round" />
<path d="M333.40,333.40 C334.00,334.83 335.40,338.90 337.00,342.00 C338.60,345.10 340.67,349.00 343.00,352.00 C345.33,355.00 347.88,357.22 351.00,360.00 C354.12,362.78 359.92,367.25 361.70,368.70" fill="none" stroke="#f2ca00" stroke-width="1.6" stroke-linecap="round" stroke-linejoin="round" />
<line x1="333.60" y1="332.80" x2="337.00" y2="331.80" stroke="#00008b" stroke-width="2" />
<line x1="95.90" y1="451.50" x2="95.90" y2="408.70" stroke="#a0a0a0" stroke-width="0.6" />
<line x1="95.90" y1="451.50" x2="49.87" y2="438.27" stroke="#a0a0a0" stroke-width="0.6" />
<line x1="95.90" y1="451.50" x2="67.45" y2="486.13" stroke="#a0a0a0" stroke-width="0.6" />
<line x1="95.90" y1="451.50" x2="124.35" y2="486.13" stroke="#a0a0a0" stroke-width="0.6" />
<line x1="95.90" y1="451.50" x2="141.93" y2="438.27" stroke="#a0a0a0" stroke-width="0.6" />
<circle cx="95.90" cy="451.50" r="1.35" fill="#92c5de"/>
<circle cx="89.41" cy="449.73" r="1.35" fill="#92c5de"/>
<circle cx="82.93" cy="447.96" r="1.35" fill="#92c5de"/>
<circle cx="76.44" cy="446.19" r="1.35" fill="#92c5de"/>
<circle cx="69.96" cy="444.41" r="1.35" fill="#92c5de"/>
<circle cx="63.47" cy="442.64" r="1.35" fill="#92c5de"/>
<circle cx="56.99" cy="440.87" r="1.35" fill="#92c5de"/>
<circle cx="50.50" cy="439.10" r="1.35" fill="#92c5de"/>
<circle cx="95.90" cy="451.50" r="1.35" fill="#006400"/>
<circle cx="91.52" cy="456.92" r="1.35" fill="#006400"/>
<circle cx="87.13" cy="462.33" r="1.35" fill="#006400"/>
<circle cx="82.75" cy="467.75" r="1.35" fill="#006400"/>
<circle cx="78.37" cy="473.17" r="1.35" fill="#006400"/>
<circle cx="73.98" cy="478.58" r="1.35" fill="#006400"/>
<circle cx="69.60" cy="484.00" r="1.35" fill="#006400"/>
<circle cx="95.90" cy="451.50" r="1.35" fill="#f2ca00"/>
<circle cx="100.25" cy="456.92" r="1.35" fill="#f2ca00"/>
<circle cx="104.60" cy="462.33" r="1.35" fill="#f2ca00"/>
<circle cx="108.95" cy="467.75" r="1.35" fill="#f2ca00"/>
<circle cx="113.30" cy="473.17" r="1.35" fill="#f2ca00"/>
<circle cx="117.65" cy="478.58" r="1.35" fill="#f2ca00"/>
<circle cx="122.00" cy="484.00" r="1.35" fill="#f2ca00"/>
<circle cx="95.90" cy="451.50" r="1.35" fill="#8c564b"/>
<circle cx="102.41" cy="449.73" r="1.35" fill="#8c564b"/>
<circle cx="108.93" cy="447.96" r="1.35" fill="#8c564b"/>
<circle cx="115.44" cy="446.19" r="1.35" fill="#8c564b"/>
<circle cx="121.96" cy="444.41" r="1.35" fill="#8c564b"/>
<circle cx="128.47" cy="442.64" r="1.35" fill="#8c564b"/>
<circle cx="134.99" cy="440.87" r="1.35" fill="#8c564b"/>
<circle cx="141.50" cy="439.10" r="1.35" fill="#8c564b"/>
<circle cx="95.90" cy="451.50" r="1.35" fill="#d62728"/>
<circle cx="95.90" cy="444.83" r="1.35" fill="#d62728"/>
<circle cx="95.90" cy="438.17" r="1.35" fill="#d62728"/>
<circle cx="95.90" cy="431.50" r="1.35" fill="#d62728"/>
<circle cx="95.90" cy="424.83" r="1.35" fill="#d62728"/>
<circle cx="95.90" cy="418.17" r="1.35" fill="#d62728"/>
<circle cx="95.90" cy="411.50" r="1.35" fill="#d62728"/>
<path d="M215.34,451.91 C215.50,450.57 216.62,446.82 216.30,443.89 C215.98,440.97 215.18,437.21 213.44,434.35 C211.69,431.49 209.30,428.47 205.80,426.72 C202.30,424.97 196.90,423.70 192.44,423.85 C187.99,424.01 183.06,425.29 179.08,427.67 C175.11,430.06 170.34,436.42 168.59,438.17" fill="none" stroke="#a0a0a0" stroke-width="0.6" stroke-linecap="round" stroke-linejoin="round" />
<path d="M215.34,451.91 C217.57,451.59 225.20,451.34 228.70,450.00 C232.20,448.66 234.59,446.50 236.34,443.89 C238.09,441.28 238.88,437.53 239.20,434.35 C239.52,431.17 239.36,427.99 238.24,424.81 C237.13,421.63 235.06,417.81 232.52,415.27 C229.97,412.72 225.84,410.66 222.98,409.54 C220.11,408.43 216.62,408.75 215.34,408.59" fill="none" stroke="#a0a0a0" stroke-width="0.6" stroke-linecap="round" stroke-linejoin="round" />
<path d="M215.34,451.91 C215.98,453.12 217.25,456.84 219.16,459.16 C221.07,461.48 222.98,464.41 226.79,465.84 C230.61,467.27 237.29,468.54 242.06,467.75 C246.83,466.95 252.08,464.09 255.42,461.07 C258.76,458.05 261.15,453.28 262.10,449.62 C263.05,445.96 261.30,440.87 261.15,439.12" fill="none" stroke="#a0a0a0" stroke-width="0.6" stroke-linecap="round" stroke-linejoin="round" />
<path d="M215.34,451.91 C214.07,452.80 209.46,454.45 207.71,457.25 C205.96,460.05 205.01,464.89 204.85,468.70 C204.69,472.52 205.01,476.81 206.76,480.15 C208.51,483.49 211.37,486.83 215.34,488.74 C219.32,490.65 226.00,491.76 230.61,491.60 C235.22,491.44 240.95,488.42 243.02,487.79" fill="none" stroke="#a0a0a0" stroke-width="0.6" stroke-linecap="round" stroke-linejoin="round" />
<path d="M215.34,451.91 C213.75,451.53 209.30,449.94 205.80,449.62 C202.30,449.30 198.49,448.89 194.35,450.00 C190.22,451.11 184.17,453.50 180.99,456.30 C177.81,459.10 176.06,463.14 175.27,466.79 C174.47,470.45 174.47,474.75 176.22,478.24 C177.97,481.74 184.17,486.20 185.76,487.79" fill="none" stroke="#a0a0a0" stroke-width="0.6" stroke-linecap="round" stroke-linejoin="round" />
<circle cx="215.34" cy="451.91" r="1.35" fill="#92c5de"/>
<circle cx="216.34" cy="445.59" r="1.35" fill="#92c5de"/>
<circle cx="215.45" cy="439.28" r="1.35" fill="#92c5de"/>
<circle cx="212.87" cy="433.46" r="1.35" fill="#92c5de"/>
<circle cx="208.70" cy="428.63" r="1.35" fill="#92c5de"/>
<circle cx="203.11" cy="425.60" r="1.35" fill="#92c5de"/>
<circle cx="196.90" cy="424.11" r="1.35" fill="#92c5de"/>
<circle cx="190.52" cy="423.99" r="1.35" fill="#92c5de"/>
<circle cx="184.27" cy="425.33" r="1.35" fill="#92c5de"/>
<circle cx="178.50" cy="428.05" r="1.35" fill="#92c5de"/>
<circle cx="173.76" cy="432.33" r="1.35" fill="#92c5de"/>
<circle cx="215.34" cy="451.91" r="1.35" fill="#006400"/>
<circle cx="209.41" cy="450.25" r="1.35" fill="#006400"/>
<circle cx="203.32" cy="449.40" r="1.35" fill="#006400"/>
<circle cx="197.17" cy="449.45" r="1.35" fill="#006400"/>
<circle cx="191.21" cy="450.98" r="1.35" fill="#006400"/>
<circle cx="185.53" cy="453.37" r="1.35" fill="#006400"/>
<circle cx="180.45" cy="456.80" r="1.35" fill="#006400"/>
<circle cx="176.94" cy="461.83" r="1.35" fill="#006400"/>
<circle cx="175.09" cy="467.69" r="1.35" fill="#006400"/>
<circle cx="174.91" cy="473.82" r="1.35" fill="#006400"/>
<circle cx="177.03" cy="479.54" r="1.35" fill="#006400"/>
<circle cx="181.31" cy="483.96" r="1.35" fill="#006400"/>
<circle cx="215.34" cy="451.91" r="1.35" fill="#f2ca00"/>
<circle cx="209.92" cy="455.01" r="1.35" fill="#f2ca00"/>
<circle cx="206.42" cy="460.05" r="1.35" fill="#f2ca00"/>
<circle cx="205.06" cy="466.14" r="1.35" fill="#f2ca00"/>
<circle cx="204.87" cy="472.38" r="1.35" fill="#f2ca00"/>
<circle cx="206.03" cy="478.50" r="1.35" fill="#f2ca00"/>
<circle cx="209.21" cy="483.85" r="1.35" fill="#f2ca00"/>
<circle cx="213.89" cy="487.95" r="1.35" fill="#f2ca00"/>
<circle cx="219.68" cy="490.27" r="1.35" fill="#f2ca00"/>
<circle cx="225.82" cy="491.39" r="1.35" fill="#f2ca00"/>
<circle cx="232.06" cy="491.47" r="1.35" fill="#f2ca00"/>
<circle cx="238.06" cy="489.76" r="1.35" fill="#f2ca00"/>
<circle cx="215.34" cy="451.91" r="1.35" fill="#8c564b"/>
<circle cx="217.99" cy="457.47" r="1.35" fill="#8c564b"/>
<circle cx="221.78" cy="462.33" r="1.35" fill="#8c564b"/>
<circle cx="226.77" cy="465.83" r="1.35" fill="#8c564b"/>
<circle cx="232.72" cy="467.41" r="1.35" fill="#8c564b"/>
<circle cx="238.85" cy="467.99" r="1.35" fill="#8c564b"/>
<circle cx="244.92" cy="467.05" r="1.35" fill="#8c564b"/>
<circle cx="250.54" cy="464.56" r="1.35" fill="#8c564b"/>
<circle cx="255.53" cy="460.96" r="1.35" fill="#8c564b"/>
<circle cx="259.33" cy="456.14" r="1.35" fill="#8c564b"/>
<circle cx="261.84" cy="450.52" r="1.35" fill="#8c564b"/>
<circle cx="262.16" cy="444.43" r="1.35" fill="#8c564b"/>
<circle cx="215.34" cy="451.91" r="1.35" fill="#d62728"/>
<circle cx="221.95" cy="451.29" r="1.35" fill="#d62728"/>
<circle cx="228.47" cy="450.08" r="1.35" fill="#d62728"/>
<circle cx="234.08" cy="446.62" r="1.35" fill="#d62728"/>
<circle cx="237.72" cy="441.13" r="1.35" fill="#d62728"/>
<circle cx="239.16" cy="434.67" r="1.35" fill="#d62728"/>
<circle cx="239.07" cy="428.05" r="1.35" fill="#d62728"/>
<circle cx="236.97" cy="421.78" r="1.35" fill="#d62728"/>
<circle cx="233.39" cy="416.21" r="1.35" fill="#d62728"/>
<circle cx="228.23" cy="412.08" r="1.35" fill="#d62728"/>
<circle cx="222.22" cy="409.28" r="1.35" fill="#d62728"/>
<line x1="333.40" y1="451.50" x2="333.40" y2="408.70" stroke="#a0a0a0" stroke-width="0.6" />
<line x1="333.40" y1="451.50" x2="287.37" y2="438.27" stroke="#a0a0a0" stroke-width="0.6" />
<line x1="333.40" y1="451.50" x2="304.95" y2="486.13" stroke="#a0a0a0" stroke-width="0.6" />
<line x1="333.40" y1="451.50" x2="361.85" y2="486.13" stroke="#a0a0a0" stroke-width="0.6" />
<line x1="333.40" y1="451.50" x2="379.43" y2="438.27" stroke="#a0a0a0" stroke-width="0.6" />
<circle cx="330.57" cy="444.27" r="1.5" fill="#92c5de" stroke="none" stroke-width="0"/>
<circle cx="325.80" cy="440.46" r="1.5" fill="#92c5de" stroke="none" stroke-width="0"/>
<circle cx="319.12" cy="438.74" r="1.5" fill="#92c5de" stroke="none" stroke-width="0"/>
<circle cx="312.82" cy="439.50" r="1.5" fill="#92c5de" stroke="none" stroke-width="0"/>
<circle cx="306.72" cy="441.03" r="1.5" fill="#92c5de" stroke="none" stroke-width="0"/>
<circle cx="301.56" cy="445.42" r="1.5" fill="#92c5de" stroke="none" stroke-width="0"/>
<circle cx="296.60" cy="449.24" r="1.5" fill="#92c5de" stroke="none" stroke-width="0"/>
<circle cx="296.22" cy="455.73" r="1.5" fill="#92c5de" stroke="none" stroke-width="0"/>
<circle cx="337.63" cy="445.42" r="1.5" fill="#d62728" stroke="none" stroke-width="0"/>
<circle cx="334.77" cy="439.69" r="1.5" fill="#d62728" stroke="none" stroke-width="0"/>
<circle cx="329.24" cy="437.21" r="1.5" fill="#d62728" stroke="none" stroke-width="0"/>
<circle cx="322.37" cy="437.21" r="1.5" fill="#d62728" stroke="none" stroke-width="0"/>
<circle cx="317.21" cy="441.03" r="1.5" fill="#d62728" stroke="none" stroke-width="0"/>
<circle cx="311.11" cy="443.32" r="1.5" fill="#d62728" stroke="none" stroke-width="0"/>
<circle cx="335.34" cy="453.05" r="1.5" fill="#8c564b" stroke="none" stroke-width="0"/>
<circle cx="341.07" cy="454.39" r="1.5" fill="#8c564b" stroke="none" stroke-width="0"/>
<circle cx="347.18" cy="453.44" r="1.5" fill="#8c564b" stroke="none" stroke-width="0"/>
<circle cx="352.90" cy="451.15" r="1.5" fill="#8c564b" stroke="none" stroke-width="0"/>
<circle cx="357.29" cy="446.76" r="1.5" fill="#8c564b" stroke="none" stroke-width="0"/>
<circle cx="356.34" cy="440.46" r="1.5" fill="#8c564b" stroke="none" stroke-width="0"/>
<circle cx="353.47" cy="434.35" r="1.5" fill="#8c564b" stroke="none" stroke-width="0"/>
<circle cx="332.48" cy="453.05" r="1.5" fill="#f2ca00" stroke="none" stroke-width="0"/>
<circle cx="329.24" cy="458.21" r="1.5" fill="#f2ca00" stroke="none" stroke-width="0"/>
<circle cx="326.18" cy="464.50" r="1.5" fill="#f2ca00" stroke="none" stroke-width="0"/>
<circle cx="327.33" cy="470.61" r="1.5" fill="#f2ca00" stroke="none" stroke-width="0"/>
<circle cx="330.57" cy="475.95" r="1.5" fill="#f2ca00" stroke="none" stroke-width="0"/>
<circle cx="336.49" cy="478.63" r="1.5" fill="#f2ca00" stroke="none" stroke-width="0"/>
<circle cx="342.02" cy="475.95" r="1.5" fill="#f2ca00" stroke="none" stroke-width="0"/>
<circle cx="325.80" cy="451.15" r="1.5" fill="#006400" stroke="none" stroke-width="0"/>
<circle cx="319.69" cy="452.67" r="1.5" fill="#006400" stroke="none" stroke-width="0"/>
<circle cx="313.40" cy="454.96" r="1.5" fill="#006400" stroke="none" stroke-width="0"/>
<circle cx="307.67" cy="458.21" r="1.5" fill="#006400" stroke="none" stroke-width="0"/>
<circle cx="304.43" cy="463.93" r="1.5" fill="#006400" stroke="none" stroke-width="0"/>
<circle cx="305.19" cy="470.61" r="1.5" fill="#006400" stroke="none" stroke-width="0"/>
<circle cx="310.15" cy="473.47" r="1.5" fill="#006400" stroke="none" stroke-width="0"/>
<circle cx="329.62" cy="447.71" r="1.4" fill="#00008b" stroke="none" stroke-width="0"/>
<circle cx="333.40" cy="451.50" r="1.6" fill="#00008b" stroke="none" stroke-width="0"/>
<text transform="translate(412.00 267.60)" x="0.50" y="0" font-size="13.97" stroke="#000" stroke-width="0.15" font-weight="bold">d</text>
<line x1="554.00" y1="271.40" x2="574.00" y2="271.40" stroke="#555" stroke-width="1.3" stroke-dasharray="1.4 2.4"/>
<text transform="translate(581.80 274.90)" x="0.25 6.37 12.55 16.57 19.88 25.88 31.64 35.21 38.04 43.64 46.93 50.81 56.96 60.45 66.54 69.28 75.40 81.53" y="0" font-size="10.29" stroke="#000" stroke-width="0.15">perfectly retained</text>
<rect x="501.30" y="291.30" width="36.60" height="47.00" fill="none" stroke="#ea6a2a" stroke-width="1.25"/>
<rect x="570.40" y="296.40" width="36.60" height="41.90" fill="none" stroke="#ea6a2a" stroke-width="1.25"/>
<rect x="639.40" y="323.90" width="36.60" height="14.40" fill="none" stroke="#ea6a2a" stroke-width="1.25"/>
<line x1="492.50" y1="286.00" x2="492.50" y2="338.30" stroke="#000" stroke-width="0.9" />
<line x1="492.50" y1="338.30" x2="685.00" y2="338.30" stroke="#000" stroke-width="0.9" />
<line x1="519.60" y1="338.30" x2="519.60" y2="341.80" stroke="#000" stroke-width="0.8" />
<line x1="588.70" y1="338.30" x2="588.70" y2="341.80" stroke="#000" stroke-width="0.8" />
<line x1="657.70" y1="338.30" x2="657.70" y2="341.80" stroke="#000" stroke-width="0.8" />
<line x1="492.50" y1="289.50" x2="685.00" y2="289.50" stroke="#555" stroke-width="1.3" stroke-dasharray="1.4 2.4"/>
<line x1="489.00" y1="289.40" x2="492.50" y2="289.40" stroke="#000" stroke-width="0.8" />
<text transform="translate(467.74 293.00)" x="0.26 6.49" y="0" font-size="10.29" stroke="#000" stroke-width="0.15">10</text>
<text transform="translate(480.21 289.90)" x="0.20" y="0" font-size="8.23" stroke="#000" stroke-width="0.15">0</text>
<line x1="489.00" y1="314.00" x2="492.50" y2="314.00" stroke="#000" stroke-width="0.8" />
<text transform="translate(461.17 317.60)" x="0.26 6.49" y="0" font-size="10.29" stroke="#000" stroke-width="0.15">10</text>
<text transform="translate(473.64 314.50)" x="0.88 6.77" y="0" font-size="8.23" stroke="#000" stroke-width="0.15">−2</text>
<line x1="489.00" y1="338.30" x2="492.50" y2="338.30" stroke="#000" stroke-width="0.8" />
<text transform="translate(461.17 341.90)" x="0.26 6.49" y="0" font-size="10.29" stroke="#000" stroke-width="0.15">10</text>
<text transform="translate(473.64 338.80)" x="0.88 6.77" y="0" font-size="8.23" stroke="#000" stroke-width="0.15">−4</text>
<circle cx="506.90" cy="290.30" r="2.9" fill="none" stroke="#000" stroke-width="1.0"/>
<circle cx="511.70" cy="290.00" r="2.9" fill="none" stroke="#000" stroke-width="1.0"/>
<circle cx="514.70" cy="293.20" r="2.9" fill="none" stroke="#000" stroke-width="1.0"/>
<circle cx="525.20" cy="292.00" r="2.9" fill="none" stroke="#000" stroke-width="1.0"/>
<circle cx="532.10" cy="292.40" r="2.9" fill="none" stroke="#000" stroke-width="1.0"/>
<circle cx="574.70" cy="296.90" r="2.9" fill="none" stroke="#000" stroke-width="1.0"/>
<circle cx="581.30" cy="295.30" r="2.9" fill="none" stroke="#000" stroke-width="1.0"/>
<circle cx="584.40" cy="301.90" r="2.9" fill="none" stroke="#000" stroke-width="1.0"/>
<circle cx="596.00" cy="296.40" r="2.9" fill="none" stroke="#000" stroke-width="1.0"/>
<circle cx="601.20" cy="295.70" r="2.9" fill="none" stroke="#000" stroke-width="1.0"/>
<circle cx="646.00" cy="321.00" r="2.9" fill="none" stroke="#000" stroke-width="1.0"/>
<circle cx="652.30" cy="321.00" r="2.9" fill="none" stroke="#000" stroke-width="1.0"/>
<circle cx="661.00" cy="328.70" r="2.9" fill="none" stroke="#000" stroke-width="1.0"/>
<circle cx="665.50" cy="327.40" r="2.9" fill="none" stroke="#000" stroke-width="1.0"/>
<circle cx="669.40" cy="328.70" r="2.9" fill="none" stroke="#000" stroke-width="1.0"/>
<line x1="519.60" y1="290.40" x2="519.60" y2="292.20" stroke="#000" stroke-width="1.2" />
<line x1="517.60" y1="290.40" x2="521.60" y2="290.40" stroke="#000" stroke-width="1.2" />
<line x1="517.60" y1="292.20" x2="521.60" y2="292.20" stroke="#000" stroke-width="1.2" />
<line x1="588.70" y1="295.40" x2="588.70" y2="297.40" stroke="#000" stroke-width="1.2" />
<line x1="586.70" y1="295.40" x2="590.70" y2="295.40" stroke="#000" stroke-width="1.2" />
<line x1="586.70" y1="297.40" x2="590.70" y2="297.40" stroke="#000" stroke-width="1.2" />
<line x1="657.60" y1="322.20" x2="657.60" y2="325.80" stroke="#000" stroke-width="1.2" />
<line x1="655.60" y1="322.20" x2="659.60" y2="322.20" stroke="#000" stroke-width="1.2" />
<line x1="655.60" y1="325.80" x2="659.60" y2="325.80" stroke="#000" stroke-width="1.2" />
<text transform="translate(442.30 312.20) rotate(-90)" x="-26.55 -21.87 -14.47 -10.25 -2.88 4.90 9.20 12.38 19.73" y="0" font-size="12.39" fill="#00008b" stroke="#00008b" stroke-width="0.15">retention</text>
<text transform="translate(455.90 312.20) rotate(-90)" x="-15.88 -9.56 -3.05 4.36 9.04" y="0" font-size="12.39" fill="#00008b" stroke="#00008b" stroke-width="0.15">score</text>
<text transform="translate(412.40 359.00)" x="0.63" y="0" font-size="13.97" stroke="#000" stroke-width="0.15" font-weight="bold">e</text>
<rect x="501.30" y="398.20" width="36.60" height="19.10" fill="none" stroke="#ea6a2a" stroke-width="1.25"/>
<rect x="570.40" y="393.00" width="36.60" height="24.30" fill="none" stroke="#ea6a2a" stroke-width="1.25"/>
<rect x="639.40" y="388.50" width="36.60" height="28.80" fill="none" stroke="#ea6a2a" stroke-width="1.25"/>
<line x1="492.50" y1="364.70" x2="492.50" y2="417.30" stroke="#000" stroke-width="0.9" />
<line x1="492.50" y1="417.30" x2="685.00" y2="417.30" stroke="#000" stroke-width="0.9" />
<line x1="519.60" y1="417.30" x2="519.60" y2="420.80" stroke="#000" stroke-width="0.8" />
<line x1="588.70" y1="417.30" x2="588.70" y2="420.80" stroke="#000" stroke-width="0.8" />
<line x1="657.70" y1="417.30" x2="657.70" y2="420.80" stroke="#000" stroke-width="0.8" />
<line x1="489.00" y1="364.70" x2="492.50" y2="364.70" stroke="#000" stroke-width="0.8" />
<text transform="translate(486.50 368.27)" x="-27.76 -21.53 -15.29 -9.23" y="0" font-size="10.29" stroke="#000" stroke-width="0.15">100%</text>
<line x1="489.00" y1="391.20" x2="492.50" y2="391.20" stroke="#000" stroke-width="0.8" />
<text transform="translate(486.50 394.77)" x="-21.53 -15.29 -9.23" y="0" font-size="10.29" stroke="#000" stroke-width="0.15">50%</text>
<line x1="489.00" y1="417.30" x2="492.50" y2="417.30" stroke="#000" stroke-width="0.8" />
<text transform="translate(486.50 420.87)" x="-15.29 -9.23" y="0" font-size="10.29" stroke="#000" stroke-width="0.15">0%</text>
<circle cx="508.40" cy="401.10" r="2.9" fill="none" stroke="#000" stroke-width="1.0"/>
<circle cx="513.10" cy="397.00" r="2.9" fill="none" stroke="#000" stroke-width="1.0"/>
<circle cx="526.00" cy="397.50" r="2.9" fill="none" stroke="#000" stroke-width="1.0"/>
<circle cx="529.60" cy="401.40" r="2.9" fill="none" stroke="#000" stroke-width="1.0"/>
<circle cx="533.80" cy="396.30" r="2.9" fill="none" stroke="#000" stroke-width="1.0"/>
<circle cx="577.80" cy="398.50" r="2.9" fill="none" stroke="#000" stroke-width="1.0"/>
<circle cx="582.50" cy="386.00" r="2.9" fill="none" stroke="#000" stroke-width="1.0"/>
<circle cx="583.50" cy="397.30" r="2.9" fill="none" stroke="#000" stroke-width="1.0"/>
<circle cx="594.50" cy="391.90" r="2.9" fill="none" stroke="#000" stroke-width="1.0"/>
<circle cx="600.90" cy="393.00" r="2.9" fill="none" stroke="#000" stroke-width="1.0"/>
<circle cx="645.90" cy="386.70" r="2.9" fill="none" stroke="#000" stroke-width="1.0"/>
<circle cx="652.30" cy="389.40" r="2.9" fill="none" stroke="#000" stroke-width="1.0"/>
<circle cx="653.70" cy="397.30" r="2.9" fill="none" stroke="#000" stroke-width="1.0"/>
<circle cx="664.30" cy="384.50" r="2.9" fill="none" stroke="#000" stroke-width="1.0"/>
<circle cx="669.40" cy="383.00" r="2.9" fill="none" stroke="#000" stroke-width="1.0"/>
<line x1="519.60" y1="397.30" x2="519.60" y2="399.10" stroke="#000" stroke-width="1.2" />
<line x1="517.60" y1="397.30" x2="521.60" y2="397.30" stroke="#000" stroke-width="1.2" />
<line x1="517.60" y1="399.10" x2="521.60" y2="399.10" stroke="#000" stroke-width="1.2" />
<line x1="588.70" y1="392.00" x2="588.70" y2="394.00" stroke="#000" stroke-width="1.2" />
<line x1="586.70" y1="392.00" x2="590.70" y2="392.00" stroke="#000" stroke-width="1.2" />
<line x1="586.70" y1="394.00" x2="590.70" y2="394.00" stroke="#000" stroke-width="1.2" />
<line x1="657.70" y1="387.50" x2="657.70" y2="389.50" stroke="#000" stroke-width="1.2" />
<line x1="655.70" y1="387.50" x2="659.70" y2="387.50" stroke="#000" stroke-width="1.2" />
<line x1="655.70" y1="389.50" x2="659.70" y2="389.50" stroke="#000" stroke-width="1.2" />
<text transform="translate(439.10 391.00) rotate(-90)" x="-28.82 -22.19 -14.83 -7.48 0.01 7.38 14.61 18.47 21.78" y="0" font-size="12.39" fill="#006400" stroke="#006400" stroke-width="0.15">change in</text>
<text transform="translate(451.50 391.00) rotate(-90)" x="-33.66 -26.46 -19.52 -15.22 -11.82 -4.96 -1.36 3.07 9.82 13.65 18.11 29.47" y="0" font-size="12.39" fill="#006400" stroke="#006400" stroke-width="0.15">activity (%)</text>
<text transform="translate(412.00 441.20)" x="0.57" y="0" font-size="13.97" stroke="#000" stroke-width="0.15" font-weight="bold">f</text>
<rect x="501.30" y="487.40" width="36.60" height="5.90" fill="none" stroke="#ea6a2a" stroke-width="1.25"/>
<rect x="570.40" y="479.40" width="36.60" height="13.90" fill="none" stroke="#ea6a2a" stroke-width="1.25"/>
<rect x="639.40" y="462.60" width="36.60" height="30.70" fill="none" stroke="#ea6a2a" stroke-width="1.25"/>
<line x1="492.50" y1="443.40" x2="492.50" y2="496.00" stroke="#000" stroke-width="0.9" />
<line x1="492.50" y1="496.00" x2="685.00" y2="496.00" stroke="#000" stroke-width="0.9" />
<line x1="519.60" y1="496.00" x2="519.60" y2="499.50" stroke="#000" stroke-width="0.8" />
<line x1="588.70" y1="496.00" x2="588.70" y2="499.50" stroke="#000" stroke-width="0.8" />
<line x1="657.70" y1="496.00" x2="657.70" y2="499.50" stroke="#000" stroke-width="0.8" />
<line x1="489.00" y1="465.40" x2="492.50" y2="465.40" stroke="#000" stroke-width="0.8" />
<text transform="translate(486.50 468.97)" x="-15.33 -9.22 -5.98" y="0" font-size="10.29" stroke="#000" stroke-width="0.15">0.2</text>
<line x1="489.00" y1="493.40" x2="492.50" y2="493.40" stroke="#000" stroke-width="0.8" />
<text transform="translate(486.50 496.97)" x="-15.33 -9.22 -5.98" y="0" font-size="10.29" stroke="#000" stroke-width="0.15">0.0</text>
<line x1="492.50" y1="493.30" x2="685.00" y2="493.30" stroke="#000" stroke-width="1.0" stroke-dasharray="3.5 1.8"/>
<line x1="501.00" y1="456.40" x2="521.60" y2="456.40" stroke="#000" stroke-width="1.0" stroke-dasharray="3.5 1.8"/>
<text transform="translate(528.60 459.70)" x="0.25 6.36 12.72 16.21" y="0" font-size="10.29" stroke="#000" stroke-width="0.15">data</text>
<circle cx="508.00" cy="484.40" r="2.9" fill="none" stroke="#000" stroke-width="1.0"/>
<circle cx="513.00" cy="490.00" r="2.9" fill="none" stroke="#000" stroke-width="1.0"/>
<circle cx="523.60" cy="490.00" r="2.9" fill="none" stroke="#000" stroke-width="1.0"/>
<circle cx="527.00" cy="486.00" r="2.9" fill="none" stroke="#000" stroke-width="1.0"/>
<circle cx="532.40" cy="484.40" r="2.9" fill="none" stroke="#000" stroke-width="1.0"/>
<circle cx="585.40" cy="463.10" r="2.9" fill="none" stroke="#000" stroke-width="1.0"/>
<circle cx="579.30" cy="488.50" r="2.9" fill="none" stroke="#000" stroke-width="1.0"/>
<circle cx="590.60" cy="485.30" r="2.9" fill="none" stroke="#000" stroke-width="1.0"/>
<circle cx="595.20" cy="479.00" r="2.9" fill="none" stroke="#000" stroke-width="1.0"/>
<circle cx="602.00" cy="480.50" r="2.9" fill="none" stroke="#000" stroke-width="1.0"/>
<circle cx="665.70" cy="447.30" r="2.9" fill="none" stroke="#000" stroke-width="1.0"/>
<circle cx="654.90" cy="454.50" r="2.9" fill="none" stroke="#000" stroke-width="1.0"/>
<circle cx="669.60" cy="454.00" r="2.9" fill="none" stroke="#000" stroke-width="1.0"/>
<circle cx="661.20" cy="473.30" r="2.9" fill="none" stroke="#000" stroke-width="1.0"/>
<circle cx="653.80" cy="485.70" r="2.9" fill="none" stroke="#000" stroke-width="1.0"/>
<line x1="519.60" y1="486.50" x2="519.60" y2="488.30" stroke="#000" stroke-width="1.2" />
<line x1="517.60" y1="486.50" x2="521.60" y2="486.50" stroke="#000" stroke-width="1.2" />
<line x1="517.60" y1="488.30" x2="521.60" y2="488.30" stroke="#000" stroke-width="1.2" />
<line x1="588.40" y1="477.80" x2="588.40" y2="481.20" stroke="#000" stroke-width="1.2" />
<line x1="586.40" y1="477.80" x2="590.40" y2="477.80" stroke="#000" stroke-width="1.2" />
<line x1="586.40" y1="481.20" x2="590.40" y2="481.20" stroke="#000" stroke-width="1.2" />
<line x1="657.80" y1="460.20" x2="657.80" y2="465.30" stroke="#000" stroke-width="1.2" />
<line x1="655.80" y1="460.20" x2="659.80" y2="460.20" stroke="#000" stroke-width="1.2" />
<line x1="655.80" y1="465.30" x2="659.80" y2="465.30" stroke="#000" stroke-width="1.2" />
<text transform="translate(445.70 469.80) rotate(-90)" x="-28.82 -22.19 -14.83 -7.48 0.01 7.38 14.61 18.47 21.78" y="0" font-size="12.39" fill="#006400" stroke="#006400" stroke-width="0.15">change in</text>
<text transform="translate(457.70 469.80) rotate(-90)" x="-32.11 -25.60 -18.15 -11.39 -3.97 0.78 3.97 11.32 18.65 25.18" y="0" font-size="12.39" fill="#006400" stroke="#006400" stroke-width="0.15">covariance</text>
<text transform="translate(519.60 510.80)" x="-11.66 -8.29 -5.46 0.17 5.99" y="0" font-size="10.29" stroke="#000" stroke-width="0.15">fixed</text>
<text transform="translate(519.60 521.60)" x="-11.05 -3.98 3.35" y="0" font-size="10.29" stroke="#000" stroke-width="0.15">RNN</text>
<text transform="translate(588.80 510.80)" x="-12.39 -9.64 -3.42 2.79 9.25" y="0" font-size="10.29" stroke="#000" stroke-width="0.15">input</text>
<text transform="translate(588.80 521.60)" x="-15.76 -9.57 -6.92 -1.07 4.54 8.11 10.74" y="0" font-size="10.29" stroke="#000" stroke-width="0.15">plastic</text>
<text transform="translate(657.80 510.80)" x="-10.16 -6.76 -0.57 2.15 4.98" y="0" font-size="10.29" stroke="#000" stroke-width="0.15">fully</text>
<text transform="translate(657.80 521.60)" x="-15.76 -9.57 -6.92 -1.07 4.54 8.11 10.74" y="0" font-size="10.29" stroke="#000" stroke-width="0.15">plastic</text>
</svg>
</body></html>
